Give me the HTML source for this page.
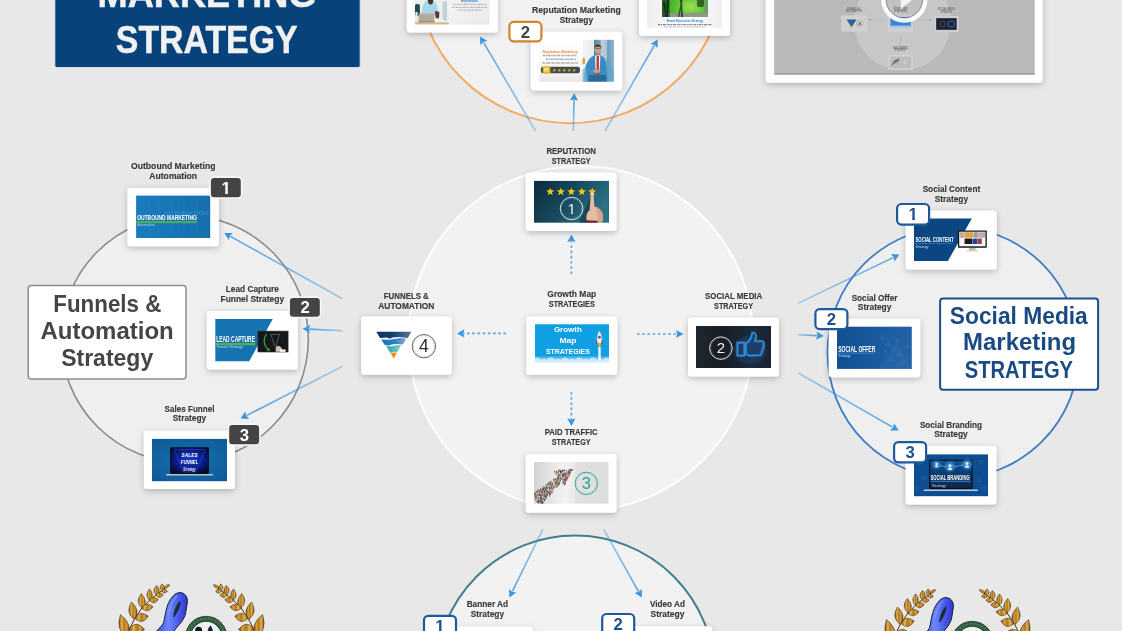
<!DOCTYPE html>
<html lang="en"><head><meta charset="utf-8"><title>Growth Map Strategies</title>
<style>html,body{margin:0;padding:0;background:#e8e8e8;overflow:hidden}svg{display:block;will-change:transform}text{font-family:'Liberation Sans', Arial, sans-serif}</style></head><body>
<svg width="1122" height="631" viewBox="0 0 1122 631">
<defs>
<filter id="sh" x="-20%" y="-30%" width="140%" height="170%"><feDropShadow dx="0" dy="2" stdDeviation="3" flood-color="#000" flood-opacity="0.24"/></filter>
<filter id="b0" x="-20%" y="-20%" width="140%" height="140%"><feGaussianBlur stdDeviation="0.35"/></filter>
<filter id="b1" x="-20%" y="-20%" width="140%" height="140%"><feGaussianBlur stdDeviation="0.6"/></filter>
<filter id="b2" x="-20%" y="-20%" width="140%" height="140%"><feGaussianBlur stdDeviation="1.2"/></filter>
</defs>
<rect width="1122" height="631" fill="#e8e8e8"/>
<circle cx="570.4" cy="-30.9" r="154.1" fill="#f1f1f1" stroke="#f2ab63" stroke-width="2"/>
<circle cx="580.7" cy="338.5" r="172.6" fill="#f2f2f2" stroke="#ffffff" stroke-width="1.9"/>
<circle cx="184.7" cy="339.1" r="123.6" fill="#efefef" stroke="#8c8c8c" stroke-width="1.6"/>
<circle cx="953.2" cy="352.6" r="125.7" fill="#efefef" stroke="#3c7ec6" stroke-width="1.8"/>
<circle cx="575.2" cy="675" r="139.4" fill="#f2f2f2" stroke="#3f7f8e" stroke-width="2"/>
<line x1="571.4" y1="274.0" x2="571.4" y2="241.5" stroke="#3b96e0" stroke-width="1.6" stroke-opacity="0.85" stroke-dasharray="2.6 2.6"/>
<polygon points="571.4,234.5 575.5,241.9 571.4,240.9 567.3,241.9" fill="#3b96e0"/>
<line x1="506.0" y1="333.4" x2="464.0" y2="333.4" stroke="#3b96e0" stroke-width="1.6" stroke-opacity="0.85" stroke-dasharray="2.6 2.6"/>
<polygon points="457.0,333.4 464.4,329.3 463.4,333.4 464.4,337.5" fill="#3b96e0"/>
<line x1="637.0" y1="334.0" x2="676.5" y2="334.0" stroke="#3b96e0" stroke-width="1.6" stroke-opacity="0.85" stroke-dasharray="2.6 2.6"/>
<polygon points="683.5,334.0 676.1,338.1 677.1,334.0 676.1,329.9" fill="#3b96e0"/>
<line x1="571.4" y1="392.0" x2="571.4" y2="419.0" stroke="#3b96e0" stroke-width="1.6" stroke-opacity="0.85" stroke-dasharray="2.6 2.6"/>
<polygon points="571.4,426.0 567.3,418.6 571.4,419.6 575.5,418.6" fill="#3b96e0"/>
<linearGradient id="ag1" gradientUnits="userSpaceOnUse" x1="342.4" y1="298.8" x2="230.4" y2="236.3"><stop offset="0" stop-color="#3b96e0" stop-opacity="0.42"/><stop offset="1" stop-color="#3b96e0" stop-opacity="0.85"/></linearGradient>
<line x1="342.4" y1="298.8" x2="230.4" y2="236.327" stroke="url(#ag1)" stroke-width="1.6"/>
<polygon points="224.3,232.9 232.8,232.9 229.9,236.0 228.8,240.1" fill="#3b96e0"/>
<linearGradient id="ag2" gradientUnits="userSpaceOnUse" x1="342.4" y1="330.8" x2="309.6" y2="329.2"><stop offset="0" stop-color="#3b96e0" stop-opacity="0.42"/><stop offset="1" stop-color="#3b96e0" stop-opacity="0.85"/></linearGradient>
<line x1="342.4" y1="330.8" x2="309.6" y2="329.154" stroke="url(#ag2)" stroke-width="1.6"/>
<polygon points="302.6,328.8 310.2,325.1 309.0,329.1 309.8,333.3" fill="#3b96e0"/>
<linearGradient id="ag3" gradientUnits="userSpaceOnUse" x1="342.4" y1="366.4" x2="246.9" y2="415.4"><stop offset="0" stop-color="#3b96e0" stop-opacity="0.42"/><stop offset="1" stop-color="#3b96e0" stop-opacity="0.85"/></linearGradient>
<line x1="342.4" y1="366.4" x2="246.9" y2="415.393" stroke="url(#ag3)" stroke-width="1.6"/>
<polygon points="240.6,418.6 245.3,411.6 246.3,415.7 249.1,418.9" fill="#3b96e0"/>
<linearGradient id="ag4" gradientUnits="userSpaceOnUse" x1="798.4" y1="303.1" x2="893.1" y2="257.6"><stop offset="0" stop-color="#3b96e0" stop-opacity="0.42"/><stop offset="1" stop-color="#3b96e0" stop-opacity="0.85"/></linearGradient>
<line x1="798.4" y1="303.1" x2="893.1" y2="257.644" stroke="url(#ag4)" stroke-width="1.6"/>
<polygon points="899.4,254.6 894.5,261.5 893.7,257.4 891.0,254.1" fill="#3b96e0"/>
<linearGradient id="ag5" gradientUnits="userSpaceOnUse" x1="798.4" y1="334.8" x2="816.8" y2="335.6"><stop offset="0" stop-color="#3b96e0" stop-opacity="0.42"/><stop offset="1" stop-color="#3b96e0" stop-opacity="0.85"/></linearGradient>
<line x1="798.4" y1="334.8" x2="816.8" y2="335.597" stroke="url(#ag5)" stroke-width="1.6"/>
<polygon points="823.8,335.9 816.2,339.7 817.4,335.6 816.6,331.5" fill="#3b96e0"/>
<linearGradient id="ag6" gradientUnits="userSpaceOnUse" x1="798.4" y1="373.0" x2="892.5" y2="427.1"><stop offset="0" stop-color="#3b96e0" stop-opacity="0.42"/><stop offset="1" stop-color="#3b96e0" stop-opacity="0.85"/></linearGradient>
<line x1="798.4" y1="373.0" x2="892.5" y2="427.097" stroke="url(#ag6)" stroke-width="1.6"/>
<polygon points="898.6,430.6 890.1,430.5 893.1,427.4 894.2,423.4" fill="#3b96e0"/>
<linearGradient id="ag7" gradientUnits="userSpaceOnUse" x1="535.5" y1="131.0" x2="483.7" y2="42.7"><stop offset="0" stop-color="#3b96e0" stop-opacity="0.42"/><stop offset="1" stop-color="#3b96e0" stop-opacity="0.85"/></linearGradient>
<line x1="535.5" y1="131.0" x2="483.7" y2="42.664" stroke="url(#ag7)" stroke-width="1.6"/>
<polygon points="480.1,36.6 487.4,40.9 483.3,42.1 480.3,45.1" fill="#3b96e0"/>
<linearGradient id="ag8" gradientUnits="userSpaceOnUse" x1="573.3" y1="131.0" x2="574.0" y2="100.2"><stop offset="0" stop-color="#3b96e0" stop-opacity="0.42"/><stop offset="1" stop-color="#3b96e0" stop-opacity="0.85"/></linearGradient>
<line x1="573.3" y1="131.0" x2="574.0" y2="100.229" stroke="url(#ag8)" stroke-width="1.6"/>
<polygon points="574.2,93.2 578.1,100.7 574.0,99.6 569.9,100.5" fill="#3b96e0"/>
<linearGradient id="ag9" gradientUnits="userSpaceOnUse" x1="605.0" y1="131.0" x2="654.2" y2="45.6"><stop offset="0" stop-color="#3b96e0" stop-opacity="0.42"/><stop offset="1" stop-color="#3b96e0" stop-opacity="0.85"/></linearGradient>
<line x1="605.0" y1="131.0" x2="654.2" y2="45.593" stroke="url(#ag9)" stroke-width="1.6"/>
<polygon points="657.7,39.5 657.6,48.0 654.5,45.0 650.5,43.9" fill="#3b96e0"/>
<linearGradient id="ag10" gradientUnits="userSpaceOnUse" x1="542.9" y1="529.2" x2="512.5" y2="591.1"><stop offset="0" stop-color="#3b96e0" stop-opacity="0.42"/><stop offset="1" stop-color="#3b96e0" stop-opacity="0.85"/></linearGradient>
<line x1="542.9" y1="529.2" x2="512.5" y2="591.091" stroke="url(#ag10)" stroke-width="1.6"/>
<polygon points="509.4,597.4 509.0,589.0 512.2,591.7 516.3,592.6" fill="#3b96e0"/>
<linearGradient id="ag11" gradientUnits="userSpaceOnUse" x1="603.6" y1="529.2" x2="638.4" y2="591.3"><stop offset="0" stop-color="#3b96e0" stop-opacity="0.42"/><stop offset="1" stop-color="#3b96e0" stop-opacity="0.85"/></linearGradient>
<line x1="603.6" y1="529.2" x2="638.4" y2="591.268" stroke="url(#ag11)" stroke-width="1.6"/>
<polygon points="641.8,597.4 634.6,592.9 638.7,591.8 641.8,588.9" fill="#3b96e0"/>
<rect x="54.8" y="-10" width="305.4" height="77.6" rx="2" fill="#08427b" stroke="#dfe6f0" stroke-width="1"/>
<text x="207.0" y="7.3" font-size="39.5" font-weight="bold" fill="#f1f1f1" text-anchor="middle" textLength="218.8" lengthAdjust="spacingAndGlyphs" stroke="#f1f1f1" stroke-width="0.5">MARKETING</text>
<text x="206.7" y="53.2" font-size="39.5" font-weight="bold" fill="#f1f1f1" text-anchor="middle" textLength="181.8" lengthAdjust="spacingAndGlyphs" stroke="#f1f1f1" stroke-width="0.5">STRATEGY</text>
<rect x="765.7" y="-10" width="276.9" height="92.7" rx="3.5" fill="#fff" filter="url(#sh)"/>
<g>
<rect x="774.2" y="-10" width="260.5" height="84.4" fill="#b9b9b9"/>
<circle cx="902.6" cy="22" r="48.5" fill="#c7c7c7"/>
<rect x="774.2" y="73.2" width="260.5" height="1.4" fill="#9a9a9a"/>
<rect x="841.2" y="15.2" width="25.8" height="16.6" rx="1" fill="#d0d0d0"/>
<polygon points="846.5,19.5 856.5,19.5 851.5,27.5" fill="#2d5f9c"/><polygon points="850.3,25.6 852.7,25.6 851.5,27.6" fill="#c98a3a"/>
<circle cx="859.6" cy="23.6" r="2.9" fill="#e2e2e2" stroke="#555" stroke-width="0.4"/>
<text x="859.6" y="25.1" font-size="4.2" font-weight="bold" fill="#333" text-anchor="middle" >4</text>
<rect x="887.9" y="14" width="25.3" height="17.8" rx="1" fill="#cfcfcf"/>
<rect x="890.4" y="17.2" width="20.4" height="10.8" fill="#3d86d0"/>
<rect x="890.4" y="25.6" width="20.4" height="2.6" fill="#a9c6e6" filter="url(#b1)"/>
<rect x="934" y="16" width="24.6" height="16" rx="1" fill="#cdcdcd"/>
<rect x="936.2" y="18.2" width="20.4" height="11.6" fill="#1c2230"/>
<circle cx="942.6" cy="24" r="2.8" fill="none" stroke="#6d7480" stroke-width="0.5"/>
<rect x="948.2" y="21.2" width="6" height="5.6" rx="1" fill="none" stroke="#2f6fc0" stroke-width="0.9"/>
<rect x="888" y="54.5" width="25.2" height="15.6" rx="1" fill="#cfcfcf"/>
<rect x="890.2" y="56.6" width="20.8" height="11.4" fill="#bdbdbd"/>
<polygon points="890.8,66.5 894,60.5 899.5,58.2 899,61 893,64.6" fill="#77726a"/>
<circle cx="905" cy="62.4" r="2.8" fill="#c5cdc9" stroke="#9fb5b0" stroke-width="0.5"/>
<text x="853.7" y="9.6" font-size="2.6" font-weight="bold" fill="#6f6f6f" text-anchor="middle" textLength="13.0" lengthAdjust="spacingAndGlyphs" >FUNNELS &amp;</text>
<text x="853.7" y="12.4" font-size="2.6" font-weight="bold" fill="#6f6f6f" text-anchor="middle" textLength="16.0" lengthAdjust="spacingAndGlyphs" >AUTOMATION</text>
<text x="900.5" y="9.4" font-size="2.6" font-weight="bold" fill="#6f6f6f" text-anchor="middle" textLength="14.0" lengthAdjust="spacingAndGlyphs" >Growth Map</text>
<text x="900.5" y="12.2" font-size="2.6" font-weight="bold" fill="#6f6f6f" text-anchor="middle" textLength="13.0" lengthAdjust="spacingAndGlyphs" >STRATEGIES</text>
<text x="946.3" y="10.4" font-size="2.6" font-weight="bold" fill="#6f6f6f" text-anchor="middle" textLength="16.5" lengthAdjust="spacingAndGlyphs" >SOCIAL MEDIA</text>
<text x="946.3" y="13.2" font-size="2.6" font-weight="bold" fill="#6f6f6f" text-anchor="middle" textLength="11.5" lengthAdjust="spacingAndGlyphs" >STRATEGY</text>
<text x="900.5" y="48.6" font-size="2.6" font-weight="bold" fill="#6f6f6f" text-anchor="middle" textLength="15.0" lengthAdjust="spacingAndGlyphs" >PAID TRAFFIC</text>
<text x="900.5" y="51.4" font-size="2.6" font-weight="bold" fill="#6f6f6f" text-anchor="middle" textLength="11.5" lengthAdjust="spacingAndGlyphs" >STRATEGY</text>
<line x1="870" y1="19.8" x2="884" y2="19.8" stroke="#9fb6d4" stroke-width="0.5"/><polygon points="868.6,19.8 871,18.8 871,20.8" fill="#7fa0cc"/>
<line x1="917" y1="19.8" x2="930" y2="19.8" stroke="#9fb6d4" stroke-width="0.5"/><polygon points="931.6,19.8 929.2,18.8 929.2,20.8" fill="#7fa0cc"/>
<line x1="900.5" y1="36" x2="900.5" y2="45" stroke="#8fa9cc" stroke-width="0.5"/>
<circle cx="904.3" cy="-0.3" r="18.6" fill="#000" fill-opacity="0.035"/>
<circle cx="904.3" cy="-0.3" r="20.75" fill="none" stroke="#ffffff" stroke-width="4.7" stroke-opacity="0.93"/>
<circle cx="904.3" cy="-0.3" r="18.2" fill="none" stroke="#4e4e4e" stroke-width="0.7" stroke-opacity="0.75"/>
<polygon points="900.6,-10.4 900.6,9.6 912,-0.2" fill="#f2f2f2"/>
</g>
<rect x="361.0" y="316.4" width="91.0" height="58.4" rx="3.2" fill="#fff" filter="url(#sh)"/>
<defs><linearGradient id="fg1" x1="0" x2="1"><stop offset="0" stop-color="#0d3560"/><stop offset="0.45" stop-color="#123f6e"/><stop offset="1" stop-color="#5d7498"/></linearGradient><linearGradient id="fg2" x1="0" x2="1"><stop offset="0" stop-color="#1a74bd"/><stop offset="0.5" stop-color="#2a7cc4"/><stop offset="1" stop-color="#86a6dc"/></linearGradient><linearGradient id="fg3" x1="0" x2="1"><stop offset="0" stop-color="#2a86c8"/><stop offset="1" stop-color="#5fa6dc"/></linearGradient><linearGradient id="fg4" x1="0" x2="1"><stop offset="0" stop-color="#23a4ae"/><stop offset="1" stop-color="#8fd2c8"/></linearGradient></defs>
<g filter="url(#b0)" transform="translate(0,0.6)">
<polygon points="376.3,331.2 411.3,331.2 407.8,337.4 399,336.4 392.6,337 389.6,338.2 387,337 380,337.4" fill="url(#fg1)"/>
<polygon points="381,338.9 389.6,339.2 396,338.2 400,337.4 406.4,338.2 402.8,344 396,343.4 391.6,344 389,345 384.8,344.3" fill="url(#fg2)"/>
<polygon points="386.2,345.6 391.6,345.6 396,344.6 401.3,344.5 397.2,351.8 393.4,351.2 390.4,352.5" fill="url(#fg4)"/>
<polygon points="390.7,352.7 393.4,352 396.9,352.2 393.7,358.2" fill="#f28c1e"/>
</g>
<circle cx="423.9" cy="346.2" r="11.7" fill="none" stroke="#2a2a2a" stroke-width="0.7"/>
<circle cx="423.9" cy="346.2" r="10.399999999999999" fill="none" stroke="#2a2a2a" stroke-width="0.5" stroke-dasharray="1 1.2" stroke-opacity="0.7"/>
<text x="423.9" y="352.3" font-size="17.5" font-weight="normal" fill="#2a2a2a" text-anchor="middle" >4</text>
<rect x="526.2" y="316.4" width="91.0" height="58.4" rx="3.2" fill="#fff" filter="url(#sh)"/>
<defs><linearGradient id="gm" x1="0" y1="0" x2="0" y2="1"><stop offset="0" stop-color="#0e9fe3"/><stop offset="0.74" stop-color="#119fe3"/><stop offset="0.86" stop-color="#a6dcf5"/><stop offset="1" stop-color="#ffffff"/></linearGradient></defs>
<rect x="535" y="324.3" width="74" height="42" fill="url(#gm)"/>
<clipPath id="gmc"><rect x="535" y="324.3" width="74" height="42"/></clipPath><g clip-path="url(#gmc)" filter="url(#b1)">
<circle cx="537" cy="361.8" r="4.4" fill="#d8effb" fill-opacity="0.8"/>
<circle cx="544" cy="363.2" r="4.4" fill="#d8effb" fill-opacity="0.8"/>
<circle cx="551" cy="361.8" r="4.4" fill="#d8effb" fill-opacity="0.8"/>
<circle cx="558" cy="363.2" r="4.4" fill="#d8effb" fill-opacity="0.8"/>
<circle cx="565" cy="361.8" r="4.4" fill="#d8effb" fill-opacity="0.8"/>
<circle cx="572" cy="363.2" r="4.4" fill="#d8effb" fill-opacity="0.8"/>
<circle cx="579" cy="361.8" r="4.4" fill="#d8effb" fill-opacity="0.8"/>
<circle cx="586" cy="363.2" r="4.4" fill="#d8effb" fill-opacity="0.8"/>
<circle cx="593" cy="361.8" r="4.4" fill="#d8effb" fill-opacity="0.8"/>
<circle cx="600" cy="363.2" r="4.4" fill="#d8effb" fill-opacity="0.8"/>
<circle cx="607" cy="361.8" r="4.4" fill="#d8effb" fill-opacity="0.8"/>
</g>
<rect x="535" y="362.5" width="74" height="4" fill="#fff"/>
<text x="567.9" y="332.0" font-size="7.4" font-weight="bold" fill="#fff" text-anchor="middle" textLength="28.0" lengthAdjust="spacingAndGlyphs" >Growth</text>
<text x="567.9" y="343.0" font-size="7.4" font-weight="bold" fill="#fff" text-anchor="middle" textLength="17.0" lengthAdjust="spacingAndGlyphs" >Map</text>
<text x="567.9" y="354.0" font-size="7.4" font-weight="bold" fill="#fff" text-anchor="middle" textLength="44.0" lengthAdjust="spacingAndGlyphs" >STRATEGIES</text>
<path d="M599.4 331 C601.6 334 602.2 338 601.6 343 L597.2 343 C596.6 338 597.2 334 599.4 331Z" fill="#f4f4f4" stroke="#c9c9c9" stroke-width="0.3"/>
<circle cx="599.4" cy="337.2" r="1.3" fill="#2a6fb4" stroke="#c33" stroke-width="0.5"/>
<path d="M597.2 339.5 L595.4 344.4 L597.4 343Z M601.6 339.5 L603.4 344.4 L601.4 343Z" fill="#e0262c"/>
<path d="M597.8 343.2 L601 343.2 L599.4 349.6Z" fill="#f5b21b"/>
<rect x="598.3" y="347" width="2.4" height="13.5" fill="#fff" fill-opacity="0.95"/>
<rect x="688.0" y="317.7" width="91.0" height="58.7" rx="3.2" fill="#fff" filter="url(#sh)"/>
<defs><linearGradient id="sm" x1="0" x2="1"><stop offset="0" stop-color="#20262f"/><stop offset="0.35" stop-color="#181d25"/><stop offset="0.75" stop-color="#1b2a3d"/><stop offset="1" stop-color="#1a2330"/></linearGradient></defs>
<rect x="696" y="326" width="75" height="42" fill="url(#sm)"/>
<ellipse cx="750" cy="350" rx="16" ry="14" fill="#1d5c9c" fill-opacity="0.3" filter="url(#b2)"/>
<circle cx="720.9" cy="348.1" r="11.3" fill="none" stroke="#f2f2f2" stroke-width="0.9"/>
<circle cx="720.9" cy="348.1" r="10.0" fill="none" stroke="#f2f2f2" stroke-width="0.5" stroke-dasharray="1 1.2" stroke-opacity="0.7"/>
<text x="720.9" y="353.4" font-size="15" font-weight="normal" fill="#f2f2f2" text-anchor="middle" >2</text>
<path d="M737.4 342.6 L744.4 342.6 L744.4 355.6 L737.4 355.6 Z M746 343.4 C749 341.6 751.6 337.6 752.2 332.8 C755.2 332 756.6 335 755.8 338.2 L755 341.2 L762 341.2 C764 341.4 764.6 343.4 763.4 344.6 C764.4 345.6 764 347.4 762.8 348 C763.6 349.2 763 350.8 761.8 351.4 C762.2 353 761.2 355 759.4 355.2 L750 355.6 C748.4 355.6 747.2 354.8 746 354 Z" fill="#15508f" fill-opacity="0.3" stroke="#5fb4ff" stroke-width="2.6" stroke-opacity="0.3" filter="url(#b1)"/>
<path d="M737.4 342.6 L744.4 342.6 L744.4 355.6 L737.4 355.6 Z M746 343.4 C749 341.6 751.6 337.6 752.2 332.8 C755.2 332 756.6 335 755.8 338.2 L755 341.2 L762 341.2 C764 341.4 764.6 343.4 763.4 344.6 C764.4 345.6 764 347.4 762.8 348 C763.6 349.2 763 350.8 761.8 351.4 C762.2 353 761.2 355 759.4 355.2 L750 355.6 C748.4 355.6 747.2 354.8 746 354 Z" fill="none" stroke="#2f8fe8" stroke-width="1.3" stroke-linejoin="round"/>
<rect x="525.8" y="172.5" width="90.6" height="58.5" rx="3.2" fill="#fff" filter="url(#sh)"/>
<defs><linearGradient id="rp" x1="0" y1="0" x2="1" y2="0.4"><stop offset="0" stop-color="#0d2a3b"/><stop offset="0.55" stop-color="#184a5f"/><stop offset="1" stop-color="#2c7184"/></linearGradient></defs>
<rect x="534" y="180.9" width="75" height="41.8" fill="url(#rp)"/>
<polygon points="590.4,197 579,222.7 588,222.7 592,208" fill="#0a2230" fill-opacity="0.45"/>
<polygon points="550.20,187.50 551.26,190.34 554.29,190.47 551.92,192.36 552.73,195.28 550.20,193.61 547.67,195.28 548.48,192.36 546.11,190.47 549.14,190.34" fill="#f6c915"/>
<polygon points="560.80,187.50 561.86,190.34 564.89,190.47 562.52,192.36 563.33,195.28 560.80,193.61 558.27,195.28 559.08,192.36 556.71,190.47 559.74,190.34" fill="#f6c915"/>
<polygon points="571.30,187.50 572.36,190.34 575.39,190.47 573.02,192.36 573.83,195.28 571.30,193.61 568.77,195.28 569.58,192.36 567.21,190.47 570.24,190.34" fill="#f6c915"/>
<polygon points="581.90,187.50 582.96,190.34 585.99,190.47 583.62,192.36 584.43,195.28 581.90,193.61 579.37,195.28 580.18,192.36 577.81,190.47 580.84,190.34" fill="#f6c915"/>
<polygon points="592.20,187.50 593.26,190.34 596.29,190.47 593.92,192.36 594.73,195.28 592.20,193.61 589.67,195.28 590.48,192.36 588.11,190.47 591.14,190.34" fill="#f6c915"/>
<circle cx="571.6" cy="208.5" r="11.3" fill="none" stroke="#eef3f5" stroke-width="0.9"/>
<circle cx="571.6" cy="208.5" r="10.0" fill="none" stroke="#eef3f5" stroke-width="0.5" stroke-dasharray="1 1.2" stroke-opacity="0.7"/>
<clipPath id="dc1"><polygon points="566.43,198.80 576.77,198.80 576.77,212.45 572.99,212.45 572.99,214.80 571.25,214.80 571.25,212.45 566.43,212.45"/></clipPath>
<g clip-path="url(#dc1)">
<text x="571.6" y="213.8" font-size="15" font-weight="normal" fill="#eef3f5" text-anchor="middle" >1</text>
</g>
<path d="M590.8 193.6 C590.8 191.6 593.4 191.6 593.6 193.6 L594.4 206.4 C597.6 206.8 601.4 209.6 602.6 213.6 C603.6 216.6 603 220 602 222.7 L587.6 222.7 C585.6 218.6 585.8 213.6 589.6 210.2 Z" fill="#e6bba0"/>
<path d="M594.4 206.4 C597.6 206.8 601.4 209.6 602.6 213.6 C603.6 216.6 603 220 602 222.7 L597 222.7 C598.6 216 597.6 210 594.4 206.4Z" fill="#c99a80" fill-opacity="0.7"/>
<path d="M585.4 222.7 L597.6 222.7 L597.4 220.8 L586 220.2Z" fill="#6b2a3a"/>
<path d="M591.3 193.2 C591.5 192.2 592.9 192.2 593.1 193.2 L593.2 195.6 L591.3 195.6Z" fill="#f5ddcd"/>
<rect x="525.8" y="454.0" width="90.6" height="58.7" rx="3.2" fill="#fff" filter="url(#sh)"/>
<defs><linearGradient id="pt" x1="0" x2="1"><stop offset="0" stop-color="#d4d4d4"/><stop offset="0.42" stop-color="#f3f3f3"/><stop offset="0.55" stop-color="#e9e9e9"/><stop offset="0.56" stop-color="#e1e1e1"/><stop offset="1" stop-color="#dcdcdc"/></linearGradient></defs>
<rect x="534" y="462" width="74.4" height="41.7" fill="url(#pt)"/>
<g opacity="0.9"><rect x="559.4" y="469.6" width="0.9" height="1.9" fill="#222"/><rect x="543.4" y="486.8" width="0.9" height="1.9" fill="#6b4a3a"/><rect x="566.2" y="471.5" width="0.9" height="1.9" fill="#c9a878"/><rect x="555.7" y="471.8" width="0.9" height="1.9" fill="#3b5d8a"/><rect x="546.0" y="496.4" width="0.9" height="1.9" fill="#a33b2e"/><rect x="541.0" y="495.1" width="0.9" height="1.9" fill="#2d3b5e"/><rect x="556.4" y="485.9" width="0.9" height="1.9" fill="#7a6a5a"/><rect x="562.4" y="477.4" width="0.9" height="1.9" fill="#2d3b5e"/><rect x="563.5" y="472.5" width="0.9" height="1.9" fill="#b58a5a"/><rect x="544.5" y="492.1" width="0.9" height="1.9" fill="#2d3b5e"/><rect x="536.4" y="492.3" width="0.9" height="1.9" fill="#d8c7a8"/><rect x="562.8" y="481.3" width="0.9" height="1.9" fill="#b58a5a"/><rect x="557.0" y="476.5" width="0.9" height="1.9" fill="#6b4a3a"/><rect x="557.8" y="478.5" width="0.9" height="1.9" fill="#a33b2e"/><rect x="536.1" y="499.4" width="0.9" height="1.9" fill="#d8c7a8"/><rect x="565.1" y="481.1" width="0.9" height="1.9" fill="#3b5d8a"/><rect x="549.4" y="484.3" width="0.9" height="1.9" fill="#3b5d8a"/><rect x="535.0" y="498.5" width="0.9" height="1.9" fill="#8a3a3a"/><rect x="548.7" y="489.8" width="0.9" height="1.9" fill="#7a6a5a"/><rect x="557.5" y="484.1" width="0.9" height="1.9" fill="#2d3b5e"/><rect x="552.2" y="484.4" width="0.9" height="1.9" fill="#2d3b5e"/><rect x="539.6" y="494.0" width="0.9" height="1.9" fill="#55606e"/><rect x="544.3" y="496.8" width="0.9" height="1.9" fill="#a33b2e"/><rect x="563.6" y="477.7" width="0.9" height="1.9" fill="#d8c7a8"/><rect x="540.5" y="494.8" width="0.9" height="1.9" fill="#222"/><rect x="555.1" y="485.1" width="0.9" height="1.9" fill="#d8c7a8"/><rect x="542.7" y="496.2" width="0.9" height="1.9" fill="#c9a878"/><rect x="562.9" y="475.2" width="0.9" height="1.9" fill="#222"/><rect x="557.6" y="479.4" width="0.9" height="1.9" fill="#55606e"/><rect x="542.0" y="489.5" width="0.9" height="1.9" fill="#8a3a3a"/><rect x="537.3" y="490.8" width="0.9" height="1.9" fill="#3b5d8a"/><rect x="564.8" y="479.0" width="0.9" height="1.9" fill="#55606e"/><rect x="549.4" y="481.4" width="0.9" height="1.9" fill="#2d3b5e"/><rect x="562.3" y="473.1" width="0.9" height="1.9" fill="#a33b2e"/><rect x="552.1" y="490.6" width="0.9" height="1.9" fill="#8a3a3a"/><rect x="559.6" y="479.6" width="0.9" height="1.9" fill="#222"/><rect x="538.0" y="494.0" width="0.9" height="1.9" fill="#a33b2e"/><rect x="566.2" y="474.6" width="0.9" height="1.9" fill="#444"/><rect x="563.8" y="478.7" width="0.9" height="1.9" fill="#222"/><rect x="551.9" y="488.0" width="0.9" height="1.9" fill="#222"/><rect x="553.6" y="486.1" width="0.9" height="1.9" fill="#222"/><rect x="564.3" y="472.4" width="0.9" height="1.9" fill="#a33b2e"/><rect x="555.7" y="478.7" width="0.9" height="1.9" fill="#222"/><rect x="554.7" y="484.4" width="0.9" height="1.9" fill="#2d3b5e"/><rect x="568.4" y="469.0" width="0.9" height="1.9" fill="#c9a878"/><rect x="544.8" y="494.8" width="0.9" height="1.9" fill="#222"/><rect x="568.9" y="469.3" width="0.9" height="1.9" fill="#7a6a5a"/><rect x="551.6" y="486.2" width="0.9" height="1.9" fill="#b58a5a"/><rect x="568.8" y="474.3" width="0.9" height="1.9" fill="#b58a5a"/><rect x="569.0" y="472.6" width="0.9" height="1.9" fill="#55606e"/><rect x="559.1" y="480.2" width="0.9" height="1.9" fill="#444"/><rect x="542.6" y="501.3" width="0.9" height="1.9" fill="#3b5d8a"/><rect x="568.5" y="472.9" width="0.9" height="1.9" fill="#d8c7a8"/><rect x="566.5" y="472.8" width="0.9" height="1.9" fill="#3b5d8a"/><rect x="547.2" y="483.5" width="0.9" height="1.9" fill="#55606e"/><rect x="535.5" y="495.0" width="0.9" height="1.9" fill="#444"/><rect x="554.9" y="485.5" width="0.9" height="1.9" fill="#b58a5a"/><rect x="561.3" y="470.2" width="0.9" height="1.9" fill="#6b4a3a"/><rect x="565.2" y="473.6" width="0.9" height="1.9" fill="#2d3b5e"/><rect x="557.7" y="475.0" width="0.9" height="1.9" fill="#444"/><rect x="547.2" y="486.9" width="0.9" height="1.9" fill="#444"/><rect x="541.1" y="500.6" width="0.9" height="1.9" fill="#d8c7a8"/><rect x="545.9" y="494.3" width="0.9" height="1.9" fill="#444"/><rect x="551.4" y="491.2" width="0.9" height="1.9" fill="#444"/><rect x="570.5" y="470.8" width="0.9" height="1.9" fill="#d8c7a8"/><rect x="550.9" y="484.8" width="0.9" height="1.9" fill="#3b5d8a"/><rect x="541.7" y="498.7" width="0.9" height="1.9" fill="#55606e"/><rect x="558.8" y="481.6" width="0.9" height="1.9" fill="#7a6a5a"/><rect x="536.2" y="490.9" width="0.9" height="1.9" fill="#3b5d8a"/><rect x="552.5" y="485.1" width="0.9" height="1.9" fill="#c9a878"/><rect x="543.7" y="494.9" width="0.9" height="1.9" fill="#2d3b5e"/><rect x="543.1" y="488.1" width="0.9" height="1.9" fill="#222"/><rect x="567.3" y="472.6" width="0.9" height="1.9" fill="#55606e"/><rect x="558.1" y="472.2" width="0.9" height="1.9" fill="#55606e"/><rect x="538.1" y="497.1" width="0.9" height="1.9" fill="#222"/><rect x="536.7" y="500.6" width="0.9" height="1.9" fill="#222"/><rect x="543.2" y="494.2" width="0.9" height="1.9" fill="#c9a878"/><rect x="553.3" y="480.8" width="0.9" height="1.9" fill="#b58a5a"/><rect x="541.7" y="488.6" width="0.9" height="1.9" fill="#7a6a5a"/><rect x="543.9" y="493.8" width="0.9" height="1.9" fill="#444"/><rect x="558.2" y="471.8" width="0.9" height="1.9" fill="#b58a5a"/><rect x="560.4" y="477.5" width="0.9" height="1.9" fill="#222"/><rect x="555.4" y="478.2" width="0.9" height="1.9" fill="#2d3b5e"/><rect x="556.7" y="472.1" width="0.9" height="1.9" fill="#222"/><rect x="548.2" y="484.9" width="0.9" height="1.9" fill="#b58a5a"/><rect x="549.8" y="493.2" width="0.9" height="1.9" fill="#3b5d8a"/><rect x="538.7" y="500.4" width="0.9" height="1.9" fill="#55606e"/><rect x="534.5" y="493.6" width="0.9" height="1.9" fill="#444"/><rect x="548.1" y="482.4" width="0.9" height="1.9" fill="#444"/><rect x="567.3" y="477.1" width="0.9" height="1.9" fill="#6b4a3a"/><rect x="566.6" y="477.3" width="0.9" height="1.9" fill="#a33b2e"/><rect x="570.1" y="471.6" width="0.9" height="1.9" fill="#b58a5a"/><rect x="544.0" y="493.6" width="0.9" height="1.9" fill="#d8c7a8"/><rect x="544.1" y="490.6" width="0.9" height="1.9" fill="#444"/><rect x="538.7" y="490.2" width="0.9" height="1.9" fill="#2d3b5e"/><rect x="542.1" y="499.6" width="0.9" height="1.9" fill="#b58a5a"/><rect x="555.5" y="483.3" width="0.9" height="1.9" fill="#7a6a5a"/><rect x="544.1" y="487.5" width="0.9" height="1.9" fill="#6b4a3a"/><rect x="563.2" y="481.9" width="0.9" height="1.9" fill="#3b5d8a"/><rect x="563.1" y="474.6" width="0.9" height="1.9" fill="#444"/><rect x="552.5" y="488.1" width="0.9" height="1.9" fill="#6b4a3a"/><rect x="536.9" y="500.5" width="0.9" height="1.9" fill="#222"/><rect x="563.8" y="483.5" width="0.9" height="1.9" fill="#222"/><rect x="535.5" y="492.7" width="0.9" height="1.9" fill="#a33b2e"/><rect x="544.2" y="495.5" width="0.9" height="1.9" fill="#6b4a3a"/><rect x="561.5" y="478.1" width="0.9" height="1.9" fill="#6b4a3a"/><rect x="541.6" y="498.9" width="0.9" height="1.9" fill="#d8c7a8"/><rect x="560.6" y="474.1" width="0.9" height="1.9" fill="#444"/><rect x="542.0" y="501.9" width="0.9" height="1.9" fill="#444"/><rect x="563.9" y="474.0" width="0.9" height="1.9" fill="#b58a5a"/><rect x="542.6" y="494.4" width="0.9" height="1.9" fill="#444"/><rect x="538.3" y="489.4" width="0.9" height="1.9" fill="#8a3a3a"/><rect x="550.3" y="491.0" width="0.9" height="1.9" fill="#8a3a3a"/><rect x="542.3" y="502.1" width="0.9" height="1.9" fill="#a33b2e"/><rect x="550.2" y="492.6" width="0.9" height="1.9" fill="#a33b2e"/><rect x="538.8" y="501.7" width="0.9" height="1.9" fill="#c9a878"/><rect x="548.8" y="494.7" width="0.9" height="1.9" fill="#444"/><rect x="544.2" y="492.8" width="0.9" height="1.9" fill="#7a6a5a"/><rect x="536.5" y="496.7" width="0.9" height="1.9" fill="#2d3b5e"/><rect x="541.1" y="495.9" width="0.9" height="1.9" fill="#55606e"/><rect x="545.8" y="491.9" width="0.9" height="1.9" fill="#a33b2e"/><rect x="557.7" y="478.8" width="0.9" height="1.9" fill="#7a6a5a"/><rect x="549.9" y="490.4" width="0.9" height="1.9" fill="#b58a5a"/><rect x="555.6" y="478.7" width="0.9" height="1.9" fill="#3b5d8a"/><rect x="559.9" y="471.4" width="0.9" height="1.9" fill="#444"/><rect x="545.5" y="487.4" width="0.9" height="1.9" fill="#7a6a5a"/><rect x="543.6" y="485.9" width="0.9" height="1.9" fill="#d8c7a8"/><rect x="544.1" y="495.0" width="0.9" height="1.9" fill="#6b4a3a"/><rect x="558.2" y="474.8" width="0.9" height="1.9" fill="#7a6a5a"/><rect x="558.2" y="469.8" width="0.9" height="1.9" fill="#6b4a3a"/><rect x="549.4" y="486.8" width="0.9" height="1.9" fill="#d8c7a8"/><rect x="559.1" y="481.1" width="0.9" height="1.9" fill="#3b5d8a"/><rect x="569.5" y="470.2" width="0.9" height="1.9" fill="#8a3a3a"/><rect x="565.4" y="477.9" width="0.9" height="1.9" fill="#6b4a3a"/><rect x="540.3" y="495.3" width="0.9" height="1.9" fill="#c9a878"/><rect x="541.5" y="498.8" width="0.9" height="1.9" fill="#d8c7a8"/><rect x="535.5" y="497.2" width="0.9" height="1.9" fill="#2d3b5e"/><rect x="549.2" y="483.4" width="0.9" height="1.9" fill="#d8c7a8"/><rect x="552.1" y="483.1" width="0.9" height="1.9" fill="#8a3a3a"/><rect x="551.2" y="485.4" width="0.9" height="1.9" fill="#6b4a3a"/><rect x="562.1" y="469.9" width="0.9" height="1.9" fill="#222"/><rect x="561.0" y="470.9" width="0.9" height="1.9" fill="#a33b2e"/><rect x="540.4" y="495.4" width="0.9" height="1.9" fill="#c9a878"/><rect x="563.5" y="472.7" width="0.9" height="1.9" fill="#8a3a3a"/><rect x="544.7" y="496.4" width="0.9" height="1.9" fill="#a33b2e"/><rect x="552.7" y="488.3" width="0.9" height="1.9" fill="#8a3a3a"/><rect x="553.7" y="478.5" width="0.9" height="1.9" fill="#6b4a3a"/><rect x="558.8" y="477.0" width="0.9" height="1.9" fill="#7a6a5a"/><rect x="568.9" y="473.1" width="0.9" height="1.9" fill="#444"/><rect x="558.8" y="480.0" width="0.9" height="1.9" fill="#b58a5a"/><rect x="568.4" y="470.8" width="0.9" height="1.9" fill="#222"/><rect x="558.6" y="481.2" width="0.9" height="1.9" fill="#7a6a5a"/><rect x="556.5" y="480.0" width="0.9" height="1.9" fill="#2d3b5e"/><rect x="566.0" y="476.1" width="0.9" height="1.9" fill="#d8c7a8"/><rect x="558.4" y="482.0" width="0.9" height="1.9" fill="#7a6a5a"/><rect x="568.9" y="471.8" width="0.9" height="1.9" fill="#c9a878"/><rect x="545.8" y="485.8" width="0.9" height="1.9" fill="#222"/><rect x="542.7" y="488.0" width="0.9" height="1.9" fill="#8a3a3a"/><rect x="566.3" y="472.7" width="0.9" height="1.9" fill="#6b4a3a"/><rect x="564.5" y="481.5" width="0.9" height="1.9" fill="#444"/><rect x="571.7" y="469.0" width="0.9" height="1.9" fill="#222"/><rect x="554.2" y="484.7" width="0.9" height="1.9" fill="#a33b2e"/><rect x="554.7" y="481.6" width="0.9" height="1.9" fill="#c9a878"/><rect x="540.2" y="499.8" width="0.9" height="1.9" fill="#2d3b5e"/><rect x="541.8" y="488.9" width="0.9" height="1.9" fill="#222"/><rect x="559.3" y="481.9" width="0.9" height="1.9" fill="#8a3a3a"/><rect x="544.4" y="486.9" width="0.9" height="1.9" fill="#3b5d8a"/><rect x="540.6" y="499.6" width="0.9" height="1.9" fill="#55606e"/><rect x="549.2" y="488.6" width="0.9" height="1.9" fill="#3b5d8a"/><rect x="558.3" y="469.8" width="0.9" height="1.9" fill="#a33b2e"/><rect x="538.2" y="500.4" width="0.9" height="1.9" fill="#7a6a5a"/><rect x="541.8" y="501.4" width="0.9" height="1.9" fill="#222"/><rect x="568.8" y="469.4" width="0.9" height="1.9" fill="#55606e"/><rect x="535.3" y="497.5" width="0.9" height="1.9" fill="#d8c7a8"/><rect x="537.4" y="494.1" width="0.9" height="1.9" fill="#d8c7a8"/><rect x="537.8" y="494.3" width="0.9" height="1.9" fill="#c9a878"/><rect x="570.3" y="468.7" width="0.9" height="1.9" fill="#7a6a5a"/><rect x="557.5" y="484.1" width="0.9" height="1.9" fill="#444"/><rect x="550.1" y="482.7" width="0.9" height="1.9" fill="#2d3b5e"/><rect x="547.5" y="492.4" width="0.9" height="1.9" fill="#222"/><rect x="556.5" y="472.7" width="0.9" height="1.9" fill="#c9a878"/><rect x="540.5" y="500.8" width="0.9" height="1.9" fill="#2d3b5e"/><rect x="555.9" y="470.8" width="0.9" height="1.9" fill="#7a6a5a"/><rect x="537.4" y="499.0" width="0.9" height="1.9" fill="#6b4a3a"/><rect x="550.7" y="486.6" width="0.9" height="1.9" fill="#a33b2e"/><rect x="540.1" y="497.4" width="0.9" height="1.9" fill="#d8c7a8"/><rect x="555.6" y="478.6" width="0.9" height="1.9" fill="#b58a5a"/><rect x="556.6" y="471.5" width="0.9" height="1.9" fill="#b58a5a"/><rect x="557.5" y="479.6" width="0.9" height="1.9" fill="#c9a878"/><rect x="538.0" y="501.6" width="0.9" height="1.9" fill="#2d3b5e"/><rect x="538.3" y="499.8" width="0.9" height="1.9" fill="#444"/><rect x="557.5" y="481.6" width="0.9" height="1.9" fill="#55606e"/><rect x="543.4" y="497.7" width="0.9" height="1.9" fill="#55606e"/><rect x="546.2" y="489.6" width="0.9" height="1.9" fill="#2d3b5e"/><rect x="549.6" y="492.7" width="0.9" height="1.9" fill="#a33b2e"/><rect x="551.8" y="489.4" width="0.9" height="1.9" fill="#3b5d8a"/><rect x="542.5" y="492.8" width="0.9" height="1.9" fill="#c9a878"/><rect x="554.2" y="470.6" width="0.9" height="1.9" fill="#8a3a3a"/><rect x="564.9" y="480.3" width="0.9" height="1.9" fill="#7a6a5a"/><rect x="542.2" y="491.6" width="0.9" height="1.9" fill="#3b5d8a"/><rect x="558.9" y="476.1" width="0.9" height="1.9" fill="#3b5d8a"/><rect x="550.3" y="482.1" width="0.9" height="1.9" fill="#55606e"/><rect x="540.4" y="500.5" width="0.9" height="1.9" fill="#2d3b5e"/><rect x="552.3" y="487.2" width="0.9" height="1.9" fill="#c9a878"/><rect x="565.8" y="472.3" width="0.9" height="1.9" fill="#d8c7a8"/><rect x="545.5" y="486.7" width="0.9" height="1.9" fill="#a33b2e"/><rect x="564.6" y="475.3" width="0.9" height="1.9" fill="#55606e"/><rect x="534.1" y="493.0" width="0.9" height="1.9" fill="#444"/><rect x="548.0" y="490.6" width="0.9" height="1.9" fill="#7a6a5a"/><rect x="552.7" y="482.4" width="0.9" height="1.9" fill="#d8c7a8"/><rect x="537.3" y="499.3" width="0.9" height="1.9" fill="#a33b2e"/><rect x="536.2" y="496.8" width="0.9" height="1.9" fill="#7a6a5a"/><rect x="564.6" y="472.1" width="0.9" height="1.9" fill="#7a6a5a"/><rect x="559.6" y="476.0" width="0.9" height="1.9" fill="#2d3b5e"/><rect x="564.6" y="474.5" width="0.9" height="1.9" fill="#3b5d8a"/><rect x="564.9" y="473.0" width="0.9" height="1.9" fill="#55606e"/><rect x="541.7" y="491.9" width="0.9" height="1.9" fill="#222"/><rect x="537.1" y="497.2" width="0.9" height="1.9" fill="#d8c7a8"/><rect x="553.4" y="486.4" width="0.9" height="1.9" fill="#55606e"/><rect x="534.3" y="497.3" width="0.9" height="1.9" fill="#b58a5a"/><rect x="560.4" y="473.5" width="0.9" height="1.9" fill="#7a6a5a"/><rect x="535.3" y="492.9" width="0.9" height="1.9" fill="#d8c7a8"/><rect x="559.7" y="479.3" width="0.9" height="1.9" fill="#222"/><rect x="553.3" y="479.0" width="0.9" height="1.9" fill="#444"/><rect x="561.8" y="471.6" width="0.9" height="1.9" fill="#d8c7a8"/><rect x="549.6" y="487.0" width="0.9" height="1.9" fill="#3b5d8a"/><rect x="541.4" y="500.2" width="0.9" height="1.9" fill="#8a3a3a"/><rect x="563.9" y="469.2" width="0.9" height="1.9" fill="#222"/><rect x="560.6" y="474.7" width="0.9" height="1.9" fill="#d8c7a8"/><rect x="540.8" y="490.9" width="0.9" height="1.9" fill="#6b4a3a"/><rect x="568.0" y="472.0" width="0.9" height="1.9" fill="#444"/><rect x="559.1" y="474.6" width="0.9" height="1.9" fill="#a33b2e"/><rect x="558.4" y="482.4" width="0.9" height="1.9" fill="#6b4a3a"/><rect x="560.7" y="471.4" width="0.9" height="1.9" fill="#2d3b5e"/><rect x="556.2" y="483.2" width="0.9" height="1.9" fill="#55606e"/><rect x="537.3" y="489.6" width="0.9" height="1.9" fill="#55606e"/><rect x="536.4" y="498.8" width="0.9" height="1.9" fill="#d8c7a8"/><rect x="565.9" y="469.9" width="0.9" height="1.9" fill="#444"/><rect x="546.2" y="488.6" width="0.9" height="1.9" fill="#b58a5a"/><rect x="557.7" y="478.4" width="0.9" height="1.9" fill="#8a3a3a"/><rect x="540.5" y="501.8" width="0.9" height="1.9" fill="#2d3b5e"/><rect x="548.2" y="490.2" width="0.9" height="1.9" fill="#d8c7a8"/><rect x="564.3" y="483.3" width="0.9" height="1.9" fill="#444"/><rect x="566.3" y="479.0" width="0.9" height="1.9" fill="#8a3a3a"/><rect x="539.9" y="497.0" width="0.9" height="1.9" fill="#8a3a3a"/><rect x="548.7" y="491.7" width="0.9" height="1.9" fill="#8a3a3a"/><rect x="564.1" y="475.4" width="0.9" height="1.9" fill="#b58a5a"/><rect x="544.7" y="497.6" width="0.9" height="1.9" fill="#222"/><rect x="541.8" y="494.0" width="0.9" height="1.9" fill="#c9a878"/><rect x="549.4" y="492.5" width="0.9" height="1.9" fill="#444"/><rect x="549.0" y="486.5" width="0.9" height="1.9" fill="#222"/><rect x="543.1" y="487.9" width="0.9" height="1.9" fill="#444"/><rect x="552.6" y="488.2" width="0.9" height="1.9" fill="#c9a878"/><rect x="565.4" y="477.4" width="0.9" height="1.9" fill="#8a3a3a"/><rect x="556.0" y="481.5" width="0.9" height="1.9" fill="#222"/><rect x="567.4" y="475.9" width="0.9" height="1.9" fill="#b58a5a"/><rect x="540.1" y="488.5" width="0.9" height="1.9" fill="#7a6a5a"/><rect x="544.9" y="488.9" width="0.9" height="1.9" fill="#2d3b5e"/><rect x="564.4" y="482.3" width="0.9" height="1.9" fill="#b58a5a"/><rect x="549.3" y="483.1" width="0.9" height="1.9" fill="#a33b2e"/><rect x="562.1" y="473.2" width="0.9" height="1.9" fill="#444"/><rect x="570.7" y="469.1" width="0.9" height="1.9" fill="#222"/><rect x="535.8" y="495.3" width="0.9" height="1.9" fill="#55606e"/><rect x="541.8" y="493.9" width="0.9" height="1.9" fill="#8a3a3a"/><rect x="562.0" y="474.0" width="0.9" height="1.9" fill="#6b4a3a"/><rect x="540.1" y="497.0" width="0.9" height="1.9" fill="#2d3b5e"/><rect x="568.7" y="472.0" width="0.9" height="1.9" fill="#b58a5a"/><rect x="546.9" y="493.5" width="0.9" height="1.9" fill="#a33b2e"/><rect x="539.6" y="498.3" width="0.9" height="1.9" fill="#444"/><rect x="545.6" y="495.9" width="0.9" height="1.9" fill="#444"/><rect x="569.2" y="471.1" width="0.9" height="1.9" fill="#222"/><rect x="536.2" y="499.2" width="0.9" height="1.9" fill="#d8c7a8"/><rect x="566.6" y="471.3" width="0.9" height="1.9" fill="#c9a878"/><rect x="539.6" y="490.0" width="0.9" height="1.9" fill="#b58a5a"/><rect x="565.5" y="479.3" width="0.9" height="1.9" fill="#a33b2e"/><rect x="541.0" y="497.4" width="0.9" height="1.9" fill="#222"/><rect x="542.0" y="489.0" width="0.9" height="1.9" fill="#55606e"/><rect x="558.5" y="473.9" width="0.9" height="1.9" fill="#444"/><rect x="562.6" y="481.7" width="0.9" height="1.9" fill="#55606e"/><rect x="563.8" y="471.8" width="0.9" height="1.9" fill="#d8c7a8"/><rect x="554.3" y="483.0" width="0.9" height="1.9" fill="#222"/><rect x="543.5" y="496.9" width="0.9" height="1.9" fill="#7a6a5a"/><rect x="535.0" y="496.0" width="0.9" height="1.9" fill="#a33b2e"/><rect x="537.8" y="492.2" width="0.9" height="1.9" fill="#c9a878"/><rect x="544.2" y="497.1" width="0.9" height="1.9" fill="#d8c7a8"/><rect x="556.5" y="485.8" width="0.9" height="1.9" fill="#55606e"/><rect x="549.6" y="487.2" width="0.9" height="1.9" fill="#7a6a5a"/><rect x="550.5" y="489.8" width="0.9" height="1.9" fill="#7a6a5a"/><rect x="560.1" y="475.1" width="0.9" height="1.9" fill="#3b5d8a"/><rect x="559.0" y="476.6" width="0.9" height="1.9" fill="#d8c7a8"/><rect x="544.7" y="493.5" width="0.9" height="1.9" fill="#55606e"/><rect x="559.4" y="474.2" width="0.9" height="1.9" fill="#55606e"/><rect x="545.8" y="484.2" width="0.9" height="1.9" fill="#444"/><rect x="568.3" y="474.8" width="0.9" height="1.9" fill="#6b4a3a"/><rect x="564.1" y="472.7" width="0.9" height="1.9" fill="#2d3b5e"/><rect x="557.6" y="479.5" width="0.9" height="1.9" fill="#d8c7a8"/><rect x="547.7" y="491.3" width="0.9" height="1.9" fill="#8a3a3a"/><rect x="557.8" y="477.0" width="0.9" height="1.9" fill="#222"/><rect x="537.7" y="497.8" width="0.9" height="1.9" fill="#b58a5a"/><rect x="544.5" y="489.7" width="0.9" height="1.9" fill="#d8c7a8"/><rect x="569.7" y="471.6" width="0.9" height="1.9" fill="#2d3b5e"/><rect x="534.2" y="494.6" width="0.9" height="1.9" fill="#8a3a3a"/><rect x="567.1" y="477.1" width="0.9" height="1.9" fill="#8a3a3a"/><rect x="557.7" y="480.7" width="0.9" height="1.9" fill="#b58a5a"/><rect x="561.0" y="477.4" width="0.9" height="1.9" fill="#7a6a5a"/><rect x="555.7" y="480.8" width="0.9" height="1.9" fill="#7a6a5a"/><rect x="534.3" y="493.8" width="0.9" height="1.9" fill="#b58a5a"/><rect x="551.0" y="480.6" width="0.9" height="1.9" fill="#c9a878"/><rect x="537.4" y="500.1" width="0.9" height="1.9" fill="#7a6a5a"/><rect x="544.0" y="499.3" width="0.9" height="1.9" fill="#444"/><rect x="554.2" y="485.6" width="0.9" height="1.9" fill="#d8c7a8"/><rect x="550.8" y="483.7" width="0.9" height="1.9" fill="#6b4a3a"/><rect x="557.2" y="479.6" width="0.9" height="1.9" fill="#6b4a3a"/><rect x="549.6" y="487.2" width="0.9" height="1.9" fill="#8a3a3a"/><rect x="550.4" y="481.5" width="0.9" height="1.9" fill="#8a3a3a"/><rect x="559.6" y="477.6" width="0.9" height="1.9" fill="#7a6a5a"/><rect x="554.0" y="485.2" width="0.9" height="1.9" fill="#c9a878"/><rect x="556.0" y="470.8" width="0.9" height="1.9" fill="#8a3a3a"/><rect x="564.7" y="478.0" width="0.9" height="1.9" fill="#55606e"/><rect x="540.8" y="494.7" width="0.9" height="1.9" fill="#8a3a3a"/><rect x="544.4" y="490.3" width="0.9" height="1.9" fill="#222"/><rect x="541.7" y="488.7" width="0.9" height="1.9" fill="#a33b2e"/><rect x="540.1" y="494.3" width="0.9" height="1.9" fill="#2d3b5e"/><rect x="552.2" y="482.5" width="0.9" height="1.9" fill="#6b4a3a"/><rect x="556.6" y="472.2" width="0.9" height="1.9" fill="#c9a878"/><rect x="547.6" y="483.2" width="0.9" height="1.9" fill="#3b5d8a"/><rect x="540.2" y="488.1" width="0.9" height="1.9" fill="#a33b2e"/><rect x="565.8" y="477.9" width="0.9" height="1.9" fill="#8a3a3a"/><rect x="543.8" y="498.9" width="0.9" height="1.9" fill="#2d3b5e"/><rect x="562.0" y="475.0" width="0.9" height="1.9" fill="#444"/><rect x="549.5" y="492.6" width="0.9" height="1.9" fill="#6b4a3a"/><rect x="564.9" y="475.8" width="0.9" height="1.9" fill="#a33b2e"/><rect x="547.1" y="490.4" width="0.9" height="1.9" fill="#2d3b5e"/><rect x="555.6" y="480.9" width="0.9" height="1.9" fill="#b58a5a"/><rect x="535.4" y="490.9" width="0.9" height="1.9" fill="#7a6a5a"/><rect x="565.4" y="475.7" width="0.9" height="1.9" fill="#a33b2e"/><rect x="566.6" y="471.6" width="0.9" height="1.9" fill="#b58a5a"/><rect x="545.6" y="484.1" width="0.9" height="1.9" fill="#c9a878"/><rect x="539.1" y="492.4" width="0.9" height="1.9" fill="#444"/><rect x="557.2" y="482.9" width="0.9" height="1.9" fill="#7a6a5a"/><rect x="554.9" y="481.5" width="0.9" height="1.9" fill="#222"/><rect x="542.3" y="498.4" width="0.9" height="1.9" fill="#2d3b5e"/><rect x="560.4" y="470.3" width="0.9" height="1.9" fill="#444"/><rect x="535.1" y="492.9" width="0.9" height="1.9" fill="#a33b2e"/><rect x="559.8" y="470.9" width="0.9" height="1.9" fill="#222"/><rect x="563.6" y="473.9" width="0.9" height="1.9" fill="#55606e"/><rect x="538.9" y="492.8" width="0.9" height="1.9" fill="#444"/><rect x="552.1" y="489.6" width="0.9" height="1.9" fill="#d8c7a8"/><rect x="567.6" y="471.8" width="0.9" height="1.9" fill="#444"/><rect x="569.3" y="470.5" width="0.9" height="1.9" fill="#444"/><rect x="538.5" y="499.9" width="0.9" height="1.9" fill="#55606e"/><rect x="542.5" y="491.4" width="0.9" height="1.9" fill="#3b5d8a"/><rect x="546.1" y="490.0" width="0.9" height="1.9" fill="#a33b2e"/><rect x="553.4" y="485.7" width="0.9" height="1.9" fill="#3b5d8a"/><rect x="570.5" y="471.0" width="0.9" height="1.9" fill="#d8c7a8"/><rect x="538.3" y="495.5" width="0.9" height="1.9" fill="#c9a878"/><rect x="564.3" y="479.4" width="0.9" height="1.9" fill="#2d3b5e"/><rect x="542.6" y="486.0" width="0.9" height="1.9" fill="#7a6a5a"/><rect x="558.5" y="483.3" width="0.9" height="1.9" fill="#6b4a3a"/><rect x="560.4" y="474.4" width="0.9" height="1.9" fill="#d8c7a8"/><rect x="539.0" y="494.4" width="0.9" height="1.9" fill="#6b4a3a"/><rect x="555.8" y="473.3" width="0.9" height="1.9" fill="#a33b2e"/><rect x="554.1" y="483.0" width="0.9" height="1.9" fill="#d8c7a8"/><rect x="568.5" y="472.1" width="0.9" height="1.9" fill="#8a3a3a"/><rect x="543.4" y="489.7" width="0.9" height="1.9" fill="#2d3b5e"/><rect x="540.6" y="491.0" width="0.9" height="1.9" fill="#8a3a3a"/><rect x="551.4" y="487.5" width="0.9" height="1.9" fill="#444"/><rect x="563.3" y="470.0" width="0.9" height="1.9" fill="#55606e"/><rect x="546.9" y="493.6" width="0.9" height="1.9" fill="#444"/><rect x="559.5" y="476.1" width="0.9" height="1.9" fill="#c9a878"/><rect x="537.0" y="493.9" width="0.9" height="1.9" fill="#6b4a3a"/><rect x="563.0" y="478.8" width="0.9" height="1.9" fill="#a33b2e"/><rect x="559.2" y="479.8" width="0.9" height="1.9" fill="#c9a878"/><rect x="548.4" y="486.8" width="0.9" height="1.9" fill="#7a6a5a"/><rect x="566.7" y="476.1" width="0.9" height="1.9" fill="#6b4a3a"/><rect x="545.7" y="487.9" width="0.9" height="1.9" fill="#2d3b5e"/><rect x="539.4" y="489.9" width="0.9" height="1.9" fill="#3b5d8a"/><rect x="564.7" y="482.3" width="0.9" height="1.9" fill="#444"/><rect x="562.3" y="480.6" width="0.9" height="1.9" fill="#6b4a3a"/><rect x="551.3" y="487.3" width="0.9" height="1.9" fill="#7a6a5a"/></g>
<circle cx="586.3" cy="483.4" r="11.2" fill="none" stroke="#23a39b" stroke-width="0.9"/>
<circle cx="586.3" cy="483.4" r="9.899999999999999" fill="none" stroke="#23a39b" stroke-width="0.5" stroke-dasharray="1 1.2" stroke-opacity="0.7"/>
<text x="586.3" y="489.2" font-size="16.5" font-weight="normal" fill="#23a39b" text-anchor="middle" >3</text>
<rect x="127.4" y="188.0" width="91.5" height="58.2" rx="3.2" fill="#fff" filter="url(#sh)"/>
<defs><linearGradient id="ob" x1="0" x2="1"><stop offset="0" stop-color="#1a7cbd"/><stop offset="1" stop-color="#176fae"/></linearGradient></defs>
<rect x="136.1" y="195.6" width="74.1" height="42.4" fill="url(#ob)"/>
<line x1="140" y1="195.6" x2="140" y2="238" stroke="#4aa0d8" stroke-width="0.4" stroke-opacity="0.35"/>
<line x1="149" y1="195.6" x2="149" y2="238" stroke="#4aa0d8" stroke-width="0.4" stroke-opacity="0.35"/>
<line x1="158" y1="195.6" x2="158" y2="238" stroke="#4aa0d8" stroke-width="0.4" stroke-opacity="0.35"/>
<line x1="171" y1="195.6" x2="171" y2="238" stroke="#4aa0d8" stroke-width="0.4" stroke-opacity="0.35"/>
<line x1="184" y1="195.6" x2="184" y2="238" stroke="#4aa0d8" stroke-width="0.4" stroke-opacity="0.35"/>
<line x1="197" y1="195.6" x2="197" y2="238" stroke="#4aa0d8" stroke-width="0.4" stroke-opacity="0.35"/>
<text x="186.0" y="214.7" font-size="5.6" font-weight="bold" fill="#3d92ce" text-anchor="middle" textLength="45.3" lengthAdjust="spacingAndGlyphs" fill-opacity="0.75">AUTOMATION</text>
<text x="137.2" y="220.0" font-size="6.7" font-weight="bold" fill="#fff" text-anchor="start" textLength="59.7" lengthAdjust="spacingAndGlyphs" >OUTBOUND MARKETING</text>
<rect x="136.1" y="221" width="60.8" height="2.2" fill="#4cae4c"/>
<text x="137.2" y="226.2" font-size="3.3" font-weight="normal" fill="#cfe3f2" text-anchor="start" textLength="17.5" lengthAdjust="spacingAndGlyphs" fill-opacity="0.8">Automation</text>
<rect x="206.9" y="311.0" width="91.1" height="58.4" rx="3.2" fill="#fff" filter="url(#sh)"/>
<polygon points="215.3,318.9 272.8,318.9 249.2,361.2 215.3,361.2" fill="#1673b1"/>
<text x="216.2" y="342.2" font-size="8.2" font-weight="bold" fill="#fff" text-anchor="start" textLength="38.8" lengthAdjust="spacingAndGlyphs" >LEAD CAPTURE</text>
<rect x="215.8" y="343" width="39.5" height="2.3" fill="#56b14a"/>
<text x="216.8" y="348.4" font-size="3" font-weight="normal" fill="#d6e6f3" text-anchor="start" textLength="26.0" lengthAdjust="spacingAndGlyphs" fill-opacity="0.85">Funnel Strategy</text>
<rect x="257.9" y="331.1" width="30.2" height="20.9" fill="#15181b" stroke="#2c2f33" stroke-width="0.6"/>
<path d="M266.4 334 C262.8 339 263.6 345.4 268 349.6" fill="none" stroke="#3faa3c" stroke-width="1.2"/>
<polygon points="266.6,350.4 269.6,347.6 269.6,351" fill="#3faa3c"/>
<path d="M270.6 334.5 L279.6 334.5 L277.6 339.5 L276.4 345.5 L274 345.5 L272.8 339.5Z" fill="none" stroke="#8a8f94" stroke-width="0.5"/>
<path d="M275.6 347.2 C277.4 345.4 280 346 281.2 347.6 L283.2 351.8 L275.8 351.8Z" fill="#d9c0ae"/>
<rect x="280" y="349.4" width="5.6" height="2.5" fill="#f0f0f0"/>
<rect x="143.9" y="430.7" width="91.1" height="58.3" rx="3.2" fill="#fff" filter="url(#sh)"/>
<defs><radialGradient id="sf" cx="0.5" cy="0.5" r="0.7"><stop offset="0" stop-color="#1571b5"/><stop offset="1" stop-color="#0e5a93"/></radialGradient><radialGradient id="sfs" cx="0.5" cy="0.45" r="0.65"><stop offset="0" stop-color="#1b3fd2"/><stop offset="0.6" stop-color="#0a1a86"/><stop offset="1" stop-color="#040a2c"/></radialGradient></defs>
<rect x="152" y="438.9" width="75" height="42.3" fill="url(#sf)"/>
<rect x="170.1" y="447.3" width="38.8" height="26.6" rx="0.8" fill="#060a1a"/>
<rect x="171" y="448.2" width="37" height="24.6" fill="url(#sfs)"/>
<polygon points="174,449.5 205.6,449.5 196,472 183.5,472" fill="none" stroke="#3f6bff" stroke-width="0.5" stroke-opacity="0.7"/>
<text x="189.6" y="456.6" font-size="5.8" font-weight="bold" fill="#fff" text-anchor="middle" textLength="16.0" lengthAdjust="spacingAndGlyphs" font-style="italic">SALES</text>
<text x="189.6" y="463.8" font-size="5.8" font-weight="bold" fill="#fff" text-anchor="middle" textLength="17.5" lengthAdjust="spacingAndGlyphs" font-style="italic">FUNNEL</text>
<text x="189.6" y="470.6" font-size="4.6" font-weight="bold" fill="#dfe6ff" text-anchor="middle" textLength="12.5" lengthAdjust="spacingAndGlyphs" font-style="italic">Strategy</text>
<rect x="166" y="473.9" width="47.1" height="1.5" rx="0.6" fill="#b9c3cc"/>
<rect x="905.8" y="210.7" width="90.9" height="58.9" rx="3.2" fill="#fff" filter="url(#sh)"/>
<polygon points="914,218.6 971.8,218.6 947.9,260.9 914,260.9" fill="#0b4582"/>
<text x="915.4" y="242.0" font-size="7.4" font-weight="bold" fill="#fff" text-anchor="start" textLength="38.3" lengthAdjust="spacingAndGlyphs" >SOCIAL CONTENT</text>
<rect x="914" y="243.2" width="39.8" height="0.9" fill="#2f78c4"/>
<text x="915.6" y="248.4" font-size="3.2" font-weight="normal" fill="#c9d8ea" text-anchor="start" textLength="13.0" lengthAdjust="spacingAndGlyphs" >Strategy</text>
<rect x="957.9" y="230.4" width="28.9" height="17.4" rx="0.8" fill="#101214"/>
<rect x="959.2" y="231.7" width="26.3" height="14.6" fill="#f6f6f6"/>
<rect x="959.8" y="232.2" width="4.6" height="5.6" fill="#c7a98d"/>
<rect x="964.8" y="232.2" width="8.4" height="5.6" fill="#e3a13b"/>
<rect x="973.6" y="232.2" width="4.2" height="5.6" fill="#9a9a9a"/>
<rect x="978.2" y="232.2" width="6.8" height="5.6" fill="#b7b0a4"/>
<rect x="964.6" y="238.6" width="7.4" height="5.4" fill="#1b1b1e"/>
<rect x="972.4" y="238.6" width="5.2" height="5.4" fill="#2a3f93"/>
<rect x="978" y="238.6" width="3.8" height="5.4" fill="#a23a4a"/>
<rect x="969" y="248" width="6.6" height="2.2" fill="#bcbcbc"/><rect x="966.6" y="250.2" width="11.4" height="1.2" fill="#c9c9c9"/>
<rect x="828.7" y="318.7" width="91.5" height="58.5" rx="3.2" fill="#fff" filter="url(#sh)"/>
<defs><linearGradient id="so" x1="0" x2="1"><stop offset="0" stop-color="#11508f"/><stop offset="0.55" stop-color="#1a5b9f"/><stop offset="1" stop-color="#2463a6"/></linearGradient></defs>
<rect x="837" y="326.7" width="74.8" height="42.2" fill="url(#so)"/>
<rect x="881" y="336" width="3" height="3" rx="0.6" fill="none" stroke="#5d92cc" stroke-width="0.5" stroke-opacity="0.6"/>
<rect x="896" y="339" width="3" height="3" rx="0.6" fill="none" stroke="#5d92cc" stroke-width="0.5" stroke-opacity="0.6"/>
<rect x="886" y="343" width="3" height="3" rx="0.6" fill="none" stroke="#5d92cc" stroke-width="0.5" stroke-opacity="0.6"/>
<rect x="892" y="347" width="3" height="3" rx="0.6" fill="none" stroke="#5d92cc" stroke-width="0.5" stroke-opacity="0.6"/>
<rect x="884" y="351" width="3" height="3" rx="0.6" fill="none" stroke="#5d92cc" stroke-width="0.5" stroke-opacity="0.6"/>
<rect x="898" y="353" width="3" height="3" rx="0.6" fill="none" stroke="#5d92cc" stroke-width="0.5" stroke-opacity="0.6"/>
<rect x="905" y="345" width="3" height="3" rx="0.6" fill="none" stroke="#5d92cc" stroke-width="0.5" stroke-opacity="0.6"/>
<rect x="889" y="358" width="3" height="3" rx="0.6" fill="none" stroke="#5d92cc" stroke-width="0.5" stroke-opacity="0.6"/>
<rect x="901" y="361" width="3" height="3" rx="0.6" fill="none" stroke="#5d92cc" stroke-width="0.5" stroke-opacity="0.6"/>
<polygon points="878,368.9 890,352 897,344 903,352 911.8,368.9" fill="#3a74b6" fill-opacity="0.28"/>
<text x="838.3" y="351.7" font-size="8.4" font-weight="bold" fill="#fff" text-anchor="start" textLength="37.0" lengthAdjust="spacingAndGlyphs" >SOCIAL OFFER</text>
<rect x="837" y="352.6" width="38.4" height="1" fill="#2f86d8"/>
<text x="838.6" y="357.4" font-size="3" font-weight="normal" fill="#c9d8ea" text-anchor="start" textLength="12.0" lengthAdjust="spacingAndGlyphs" >Strategy</text>
<rect x="905.6" y="446.0" width="90.8" height="58.4" rx="3.2" fill="#fff" filter="url(#sh)"/>
<rect x="914" y="454.4" width="74" height="41.8" fill="#0d4e92"/>
<circle cx="919" cy="463" r="1.8" fill="none" stroke="#3f7cc0" stroke-width="0.5" stroke-opacity="0.7"/>
<circle cx="924" cy="478" r="1.8" fill="none" stroke="#3f7cc0" stroke-width="0.5" stroke-opacity="0.7"/>
<circle cx="981" cy="462" r="1.8" fill="none" stroke="#3f7cc0" stroke-width="0.5" stroke-opacity="0.7"/>
<circle cx="979" cy="480" r="1.8" fill="none" stroke="#3f7cc0" stroke-width="0.5" stroke-opacity="0.7"/>
<circle cx="917" cy="489" r="1.8" fill="none" stroke="#3f7cc0" stroke-width="0.5" stroke-opacity="0.7"/>
<circle cx="984" cy="489" r="1.8" fill="none" stroke="#3f7cc0" stroke-width="0.5" stroke-opacity="0.7"/>
<rect x="929.1" y="459.7" width="43.6" height="29.2" rx="0.8" fill="#0a0f18"/>
<defs><linearGradient id="sb" x1="0" y1="0" x2="0" y2="1"><stop offset="0" stop-color="#0e4f93"/><stop offset="0.5" stop-color="#0b3a73"/><stop offset="1" stop-color="#14263f"/></linearGradient></defs>
<rect x="930.2" y="460.8" width="41.4" height="27" fill="url(#sb)"/>
<circle cx="936.6" cy="464.6" r="3.78" fill="#58b6f0" fill-opacity="0.6" filter="url(#b2)"/>
<circle cx="936.6" cy="463.90000000000003" r="1.176" fill="#dff2ff"/><path d="M934.9200000000001 467.26000000000005 C934.9200000000001 464.6 938.28 464.6 938.28 467.26000000000005Z" fill="#dff2ff"/>
<circle cx="950" cy="466.6" r="4.86" fill="#58b6f0" fill-opacity="0.6" filter="url(#b2)"/>
<circle cx="950" cy="465.70000000000005" r="1.512" fill="#dff2ff"/><path d="M947.84 470.02000000000004 C947.84 466.6 952.16 466.6 952.16 470.02000000000004Z" fill="#dff2ff"/>
<circle cx="967" cy="464.4" r="4.86" fill="#58b6f0" fill-opacity="0.6" filter="url(#b2)"/>
<circle cx="967" cy="463.5" r="1.512" fill="#dff2ff"/><path d="M964.84 467.82 C964.84 464.4 969.16 464.4 969.16 467.82Z" fill="#dff2ff"/>
<path d="M939 465.5 L946.6 467 M953.6 467 L963.4 465" stroke="#6fc0f2" stroke-width="0.6"/>
<text x="950.1" y="479.6" font-size="7" font-weight="bold" fill="#fff" text-anchor="middle" textLength="39.2" lengthAdjust="spacingAndGlyphs" >SOCIAL BRANDING</text>
<rect x="931" y="480.8" width="39.6" height="1" fill="#2f86d8"/>
<text x="932.0" y="486.6" font-size="3.6" font-weight="normal" fill="#b9cde6" text-anchor="start" textLength="14.0" lengthAdjust="spacingAndGlyphs" >Strategy</text>
<rect x="923.6" y="489.4" width="54.5" height="1.5" rx="0.6" fill="#c3ccd6"/>
<rect x="406.9" y="-30.0" width="91.1" height="62.4" rx="3.2" fill="#fff" filter="url(#sh)"/>
<defs><linearGradient id="tl1" x1="0" y1="0" x2="1" y2="1"><stop offset="0" stop-color="#ffffff"/><stop offset="1" stop-color="#e9e9e9"/></linearGradient></defs>
<rect x="414.9" y="-20" width="74.8" height="44.6" fill="url(#tl1)"/>
<g filter="url(#b1)"><clipPath id="tlc"><rect x="414.9" y="-20" width="33.9" height="44.6"/></clipPath><g clip-path="url(#tlc)">
<rect x="414.9" y="-20" width="33.9" height="44.6" fill="#ecefe9"/>
<rect x="414.9" y="4" width="5" height="12" rx="2" fill="#1f4a55"/>
<rect x="415.4" y="12" width="2.2" height="12" fill="#dfe8e6"/>
<path d="M421.5 15 C421.5 5 425 0 430 -1 C435.5 0 438 6 438.5 15Z" fill="#a6d6ea"/>
<ellipse cx="430.6" cy="0.6" rx="2.6" ry="4" fill="#4a3028"/>
<rect x="442.6" y="1.5" width="4.4" height="19" fill="#c3d0d6"/>
<path d="M435 11 L439.4 12 L439 18.5 L435.6 18Z" fill="#5a3a30"/>
<rect x="418.6" y="13.6" width="15.8" height="9" fill="#b5a999"/>
<rect x="418.6" y="21.2" width="15.8" height="1.3" fill="#8f8577"/>
<rect x="414.9" y="22.4" width="33.9" height="2.3" fill="#d6b888"/>
<rect x="437" y="19.6" width="7" height="2.4" fill="#f1efea"/>
</g></g>
<text x="469.3" y="1.6" font-size="3.6" font-weight="bold" fill="#2f86d8" text-anchor="middle" textLength="16.6" lengthAdjust="spacingAndGlyphs" >Reputation</text>
<line x1="452.8" y1="4.4" x2="486.8" y2="4.4" stroke="#7d7d7d" stroke-width="1.3" stroke-dasharray="1.8 0.7 0.9 0.6 2.4 0.8" stroke-opacity="0.5"/>
<line x1="451.8" y1="7.3" x2="487.8" y2="7.3" stroke="#7d7d7d" stroke-width="1.3" stroke-dasharray="1.8 0.7 0.9 0.6 2.4 0.8" stroke-opacity="0.5"/>
<line x1="457.3" y1="10.2" x2="482.3" y2="10.2" stroke="#7d7d7d" stroke-width="1.3" stroke-dasharray="1.8 0.7 0.9 0.6 2.4 0.8" stroke-opacity="0.5"/>
<rect x="639.0" y="-30.0" width="91.0" height="65.8" rx="3.2" fill="#fff" filter="url(#sh)"/>
<defs><linearGradient id="tr1" x1="0" x2="1"><stop offset="0" stop-color="#eeeeee"/><stop offset="0.5" stop-color="#ffffff"/><stop offset="1" stop-color="#eeeeee"/></linearGradient><radialGradient id="tr2" cx="0.62" cy="0.72" r="0.75"><stop offset="0" stop-color="#9be052"/><stop offset="0.45" stop-color="#54c032"/><stop offset="1" stop-color="#2f8f26"/></radialGradient></defs>
<rect x="647.2" y="-20" width="74.6" height="47.7" fill="url(#tr1)"/>
<clipPath id="trc"><rect x="661.9" y="-20" width="46.3" height="37"/></clipPath><g clip-path="url(#trc)" filter="url(#b1)">
<rect x="661.9" y="-20" width="46.3" height="37" fill="url(#tr2)"/>
<rect x="661.9" y="12.9" width="46.3" height="4.1" fill="#8d9886"/>
<rect x="661.9" y="-20" width="7.8" height="37" fill="#1c3a20" fill-opacity="0.72"/>
<rect x="704" y="-20" width="4.2" height="33" fill="#6f9a6a" fill-opacity="0.8"/>
<rect x="697" y="-20" width="7" height="27" rx="2" fill="#1d3a22" fill-opacity="0.7"/>
<path d="M679.4 -10 L682.6 17 M684 -10 L678.6 17 M681.6 2 L681.6 17" stroke="#243628" stroke-width="1.3" stroke-opacity="0.85"/>
<path d="M664 2 L666 17 M668 -4 L667 17" stroke="#0f2412" stroke-width="1.2"/>
</g>
<text x="685.0" y="21.6" font-size="3.9" font-weight="bold" fill="#2f86d8" text-anchor="middle" textLength="36.3" lengthAdjust="spacingAndGlyphs" >Brand Reputation Strategy</text>
<line x1="658" y1="24.6" x2="712" y2="24.6" stroke="#555" stroke-width="1.4" stroke-dasharray="2.2 0.6 1.4 0.7 3 0.8 1 0.5" stroke-opacity="0.7"/>
<line x1="664" y1="26.9" x2="705" y2="26.9" stroke="#777" stroke-width="1" stroke-dasharray="2.2 0.6 1.4 0.7 3 0.8" stroke-opacity="0.45"/>
<rect x="530.9" y="31.7" width="91.2" height="58.7" rx="3.2" fill="#fff" filter="url(#sh)"/>
<defs><linearGradient id="tm1" x1="0" y1="0" x2="0" y2="1"><stop offset="0" stop-color="#ffffff"/><stop offset="0.75" stop-color="#f6f6f6"/><stop offset="1" stop-color="#e6e6e6"/></linearGradient><linearGradient id="tm2" x1="0" x2="1"><stop offset="0" stop-color="#f3f6f8"/><stop offset="0.36" stop-color="#e4ecf1"/><stop offset="0.38" stop-color="#5f86a0"/><stop offset="0.56" stop-color="#7d9fb6"/><stop offset="0.6" stop-color="#bccfda"/><stop offset="0.76" stop-color="#aec5d3"/><stop offset="0.8" stop-color="#6f9cba"/><stop offset="1" stop-color="#8db6cf"/></linearGradient></defs>
<rect x="539.2" y="39.6" width="74.6" height="42.2" fill="url(#tm1)"/>
<clipPath id="tmc"><rect x="582.4" y="39.6" width="31.6" height="42.1"/></clipPath><g clip-path="url(#tmc)" filter="url(#b1)">
<rect x="582.4" y="39.6" width="31.6" height="42.1" fill="url(#tm2)"/>
<path d="M583.6 82 C583.8 68 586.6 58.6 594 55.4 L601 55.4 C606.4 57.6 608 66 607.6 82Z" fill="#3b8dc0"/>
<path d="M606 58 C611 60 613.6 68 613.8 82 L607 82Z" fill="#5ea6cf" fill-opacity="0.75"/>
<path d="M595 55.4 L600.4 55.4 L599.6 72 L595.6 72Z" fill="#eef3f6"/>
<path d="M596.6 56 L599 56 L598.9 76.5 L597.7 78 L596.5 76.5Z" fill="#d5332f"/>
<ellipse cx="597.9" cy="49.2" rx="3.3" ry="4" fill="#c9a283"/>
<path d="M594.4 48 C594.2 43.4 601.6 43.4 601.5 48 C600 46.4 596 46.4 594.4 48Z" fill="#4a3a30"/>
<rect x="594.8" y="48.2" width="6.2" height="0.8" fill="#5a4a40" fill-opacity="0.7"/>
<ellipse cx="596.8" cy="71.2" rx="3.6" ry="1.7" fill="#c79f84"/>
<path d="M589 75 L606 75 L606.6 82 L588.6 82Z" fill="#2a6a98"/>
<ellipse cx="583.6" cy="61" rx="1.5" ry="3.6" fill="#e9962e"/>
<path d="M582.4 70 L586 66 L587 82 L582.4 82Z" fill="#7fb4d2" fill-opacity="0.8"/>
</g>
<text x="560.0" y="52.6" font-size="3.9" font-weight="bold" fill="#f08a24" text-anchor="middle" textLength="35.2" lengthAdjust="spacingAndGlyphs" >Reputation Marketing</text>
<line x1="543" y1="55.6" x2="577" y2="55.6" stroke="#777" stroke-width="1.5" stroke-dasharray="2.2 0.7 1.2 0.6 2.8 0.8 0.8 0.6" stroke-opacity="0.62"/>
<line x1="546" y1="59.3" x2="576" y2="59.3" stroke="#777" stroke-width="1.5" stroke-dasharray="2.2 0.7 1.2 0.6 2.8 0.8 0.8 0.6" stroke-opacity="0.62"/>
<line x1="542.5" y1="63" x2="578" y2="63" stroke="#777" stroke-width="1.5" stroke-dasharray="2.2 0.7 1.2 0.6 2.8 0.8 0.8 0.6" stroke-opacity="0.62"/>
<rect x="540.8" y="66.7" width="39.2" height="6.6" rx="2.2" fill="#444c52"/>
<rect x="542.8" y="66.4" width="7.5" height="7.2" fill="#e8b81c"/>
<rect x="544.2" y="68" width="1.6" height="3.6" fill="#f7e6a8"/><rect x="546.6" y="67.6" width="1.6" height="4" fill="#f7e6a8"/>
<polygon points="554.40,68.40 554.87,69.65 556.21,69.71 555.16,70.55 555.52,71.84 554.40,71.10 553.28,71.84 553.64,70.55 552.59,69.71 553.93,69.65" fill="#f0be17"/>
<polygon points="559.30,68.40 559.77,69.65 561.11,69.71 560.06,70.55 560.42,71.84 559.30,71.10 558.18,71.84 558.54,70.55 557.49,69.71 558.83,69.65" fill="#f0be17"/>
<polygon points="564.30,68.40 564.77,69.65 566.11,69.71 565.06,70.55 565.42,71.84 564.30,71.10 563.18,71.84 563.54,70.55 562.49,69.71 563.83,69.65" fill="#f0be17"/>
<polygon points="569.20,68.40 569.67,69.65 571.01,69.71 569.96,70.55 570.32,71.84 569.20,71.10 568.08,71.84 568.44,70.55 567.39,69.71 568.73,69.65" fill="#f0be17"/>
<polygon points="574.20,68.40 574.67,69.65 576.01,69.71 574.96,70.55 575.32,71.84 574.20,71.10 573.08,71.84 573.44,70.55 572.39,69.71 573.73,69.65" fill="#f0be17"/>
<rect x="441.6" y="626.5" width="91.0" height="30.0" rx="3.2" fill="#fff" filter="url(#sh)"/>
<rect x="621.0" y="626.2" width="91.2" height="30.0" rx="3.2" fill="#fff" filter="url(#sh)"/>
<text x="571.2" y="154.2" font-size="9.2" font-weight="bold" fill="#383838" text-anchor="middle" textLength="49.6" lengthAdjust="spacingAndGlyphs" stroke="#383838" stroke-width="0.14">REPUTATION</text>
<text x="571.2" y="163.8" font-size="9.2" font-weight="bold" fill="#383838" text-anchor="middle" textLength="38.8" lengthAdjust="spacingAndGlyphs" stroke="#383838" stroke-width="0.14">STRATEGY</text>
<text x="571.8" y="297.1" font-size="9.2" font-weight="bold" fill="#383838" text-anchor="middle" textLength="49.0" lengthAdjust="spacingAndGlyphs" stroke="#383838" stroke-width="0.14">Growth Map</text>
<text x="571.8" y="306.6" font-size="9.2" font-weight="bold" fill="#383838" text-anchor="middle" textLength="46.0" lengthAdjust="spacingAndGlyphs" stroke="#383838" stroke-width="0.14">STRATEGIES</text>
<text x="406.3" y="298.5" font-size="9.2" font-weight="bold" fill="#383838" text-anchor="middle" textLength="45.0" lengthAdjust="spacingAndGlyphs" stroke="#383838" stroke-width="0.14">FUNNELS &amp;</text>
<text x="406.3" y="308.6" font-size="9.2" font-weight="bold" fill="#383838" text-anchor="middle" textLength="56.0" lengthAdjust="spacingAndGlyphs" stroke="#383838" stroke-width="0.14">AUTOMATION</text>
<text x="733.6" y="299.2" font-size="9.2" font-weight="bold" fill="#383838" text-anchor="middle" textLength="57.2" lengthAdjust="spacingAndGlyphs" stroke="#383838" stroke-width="0.14">SOCIAL MEDIA</text>
<text x="733.6" y="309.1" font-size="9.2" font-weight="bold" fill="#383838" text-anchor="middle" textLength="39.0" lengthAdjust="spacingAndGlyphs" stroke="#383838" stroke-width="0.14">STRATEGY</text>
<text x="571.2" y="435.4" font-size="9.2" font-weight="bold" fill="#383838" text-anchor="middle" textLength="52.9" lengthAdjust="spacingAndGlyphs" stroke="#383838" stroke-width="0.14">PAID TRAFFIC</text>
<text x="571.2" y="444.9" font-size="9.2" font-weight="bold" fill="#383838" text-anchor="middle" textLength="38.8" lengthAdjust="spacingAndGlyphs" stroke="#383838" stroke-width="0.14">STRATEGY</text>
<text x="173.2" y="169.0" font-size="9.2" font-weight="bold" fill="#383838" text-anchor="middle" textLength="84.5" lengthAdjust="spacingAndGlyphs" stroke="#383838" stroke-width="0.14">Outbound Marketing</text>
<text x="173.2" y="178.7" font-size="9.2" font-weight="bold" fill="#383838" text-anchor="middle" textLength="47.9" lengthAdjust="spacingAndGlyphs" stroke="#383838" stroke-width="0.14">Automation</text>
<text x="252.3" y="292.2" font-size="9.2" font-weight="bold" fill="#383838" text-anchor="middle" textLength="53.2" lengthAdjust="spacingAndGlyphs" stroke="#383838" stroke-width="0.14">Lead Capture</text>
<text x="252.3" y="301.9" font-size="9.2" font-weight="bold" fill="#383838" text-anchor="middle" textLength="63.6" lengthAdjust="spacingAndGlyphs" stroke="#383838" stroke-width="0.14">Funnel Strategy</text>
<text x="189.5" y="412.2" font-size="9.2" font-weight="bold" fill="#383838" text-anchor="middle" textLength="50.0" lengthAdjust="spacingAndGlyphs" stroke="#383838" stroke-width="0.14">Sales Funnel</text>
<text x="189.5" y="421.1" font-size="9.2" font-weight="bold" fill="#383838" text-anchor="middle" textLength="33.4" lengthAdjust="spacingAndGlyphs" stroke="#383838" stroke-width="0.14">Strategy</text>
<text x="951.4" y="192.2" font-size="9.2" font-weight="bold" fill="#383838" text-anchor="middle" textLength="57.5" lengthAdjust="spacingAndGlyphs" stroke="#383838" stroke-width="0.14">Social Content</text>
<text x="951.4" y="201.9" font-size="9.2" font-weight="bold" fill="#383838" text-anchor="middle" textLength="33.5" lengthAdjust="spacingAndGlyphs" stroke="#383838" stroke-width="0.14">Strategy</text>
<text x="874.6" y="300.5" font-size="9.2" font-weight="bold" fill="#383838" text-anchor="middle" textLength="45.9" lengthAdjust="spacingAndGlyphs" stroke="#383838" stroke-width="0.14">Social Offer</text>
<text x="874.6" y="310.1" font-size="9.2" font-weight="bold" fill="#383838" text-anchor="middle" textLength="33.5" lengthAdjust="spacingAndGlyphs" stroke="#383838" stroke-width="0.14">Strategy</text>
<text x="951.0" y="427.7" font-size="9.2" font-weight="bold" fill="#383838" text-anchor="middle" textLength="62.2" lengthAdjust="spacingAndGlyphs" stroke="#383838" stroke-width="0.14">Social Branding</text>
<text x="951.0" y="437.4" font-size="9.2" font-weight="bold" fill="#383838" text-anchor="middle" textLength="33.6" lengthAdjust="spacingAndGlyphs" stroke="#383838" stroke-width="0.14">Strategy</text>
<text x="576.4" y="12.8" font-size="9.2" font-weight="bold" fill="#383838" text-anchor="middle" textLength="88.8" lengthAdjust="spacingAndGlyphs" stroke="#383838" stroke-width="0.14">Reputation Marketing</text>
<text x="576.4" y="22.9" font-size="9.2" font-weight="bold" fill="#383838" text-anchor="middle" textLength="33.3" lengthAdjust="spacingAndGlyphs" stroke="#383838" stroke-width="0.14">Strategy</text>
<text x="487.4" y="607.4" font-size="9.2" font-weight="bold" fill="#383838" text-anchor="middle" textLength="41.5" lengthAdjust="spacingAndGlyphs" stroke="#383838" stroke-width="0.14">Banner Ad</text>
<text x="487.4" y="616.8" font-size="9.2" font-weight="bold" fill="#383838" text-anchor="middle" textLength="33.4" lengthAdjust="spacingAndGlyphs" stroke="#383838" stroke-width="0.14">Strategy</text>
<text x="667.5" y="607.4" font-size="9.2" font-weight="bold" fill="#383838" text-anchor="middle" textLength="34.9" lengthAdjust="spacingAndGlyphs" stroke="#383838" stroke-width="0.14">Video Ad</text>
<text x="667.5" y="616.8" font-size="9.2" font-weight="bold" fill="#383838" text-anchor="middle" textLength="33.8" lengthAdjust="spacingAndGlyphs" stroke="#383838" stroke-width="0.14">Strategy</text>
<rect x="28.2" y="285.5" width="157.8" height="93.6" rx="3" fill="#fff" stroke="#8d8d8d" stroke-width="1.5"/>
<text x="107.3" y="311.8" font-size="23.2" font-weight="bold" fill="#454545" text-anchor="middle" textLength="108.0" lengthAdjust="spacingAndGlyphs" >Funnels &amp;</text>
<text x="107.1" y="339.0" font-size="23.2" font-weight="bold" fill="#454545" text-anchor="middle" textLength="133.2" lengthAdjust="spacingAndGlyphs" >Automation</text>
<text x="107.2" y="365.8" font-size="23.2" font-weight="bold" fill="#454545" text-anchor="middle" textLength="92.0" lengthAdjust="spacingAndGlyphs" >Strategy</text>
<rect x="940.1" y="298.5" width="158" height="91.3" rx="3" fill="#fff" stroke="#1c4f8c" stroke-width="2"/>
<text x="1018.8" y="323.7" font-size="23.2" font-weight="bold" fill="#1a4a84" text-anchor="middle" textLength="138.0" lengthAdjust="spacingAndGlyphs" >Social Media</text>
<text x="1019.6" y="350.4" font-size="23.2" font-weight="bold" fill="#1a4a84" text-anchor="middle" textLength="113.0" lengthAdjust="spacingAndGlyphs" >Marketing</text>
<text x="1018.9" y="378.2" font-size="23.2" font-weight="bold" fill="#1a4a84" text-anchor="middle" textLength="108.2" lengthAdjust="spacingAndGlyphs" >STRATEGY</text>
<rect x="209.2" y="176.3" width="33.3" height="22.6" rx="4.6" fill="#f7f7f7" fill-opacity="0.92"/>
<rect x="210.9" y="178.0" width="29.9" height="19.2" rx="3.2" fill="#444444"/>
<clipPath id="dc2"><polygon points="220.51,177.00 231.79,177.00 231.79,191.70 227.90,191.70 227.90,194.70 225.21,194.70 225.21,191.70 220.51,191.70"/></clipPath>
<g clip-path="url(#dc2)">
<text x="226.2" y="193.7" font-size="16.7" font-weight="bold" fill="#fff" text-anchor="middle" >1</text>
</g>
<rect x="288.2" y="296.2" width="33.3" height="22.3" rx="4.6" fill="#f7f7f7" fill-opacity="0.92"/>
<rect x="289.9" y="297.9" width="29.9" height="18.9" rx="3.2" fill="#444444"/>
<text x="305.1" y="313.3" font-size="16.7" font-weight="bold" fill="#fff" text-anchor="middle" >2</text>
<rect x="227.5" y="423.3" width="33.3" height="22.6" rx="4.6" fill="#f7f7f7" fill-opacity="0.92"/>
<rect x="229.2" y="425.0" width="29.9" height="19.2" rx="3.2" fill="#444444"/>
<text x="244.4" y="440.7" font-size="16.7" font-weight="bold" fill="#fff" text-anchor="middle" >3</text>
<rect x="897.1" y="204.0" width="32.0" height="20.6" rx="4.3" fill="#fff" stroke="#1d5a9c" stroke-width="2.2"/>
<clipPath id="dc3"><polygon points="907.46,203.40 918.74,203.40 918.74,218.10 914.85,218.10 914.85,221.10 912.16,221.10 912.16,218.10 907.46,218.10"/></clipPath>
<g clip-path="url(#dc3)">
<text x="913.1" y="220.1" font-size="16.7" font-weight="bold" fill="#1d4f8b" text-anchor="middle" >1</text>
</g>
<rect x="815.4" y="309.1" width="32.0" height="20.0" rx="4.3" fill="#fff" stroke="#1d5a9c" stroke-width="2.2"/>
<text x="831.4" y="325.0" font-size="16.7" font-weight="bold" fill="#1d4f8b" text-anchor="middle" >2</text>
<rect x="894.1" y="442.1" width="32.0" height="20.3" rx="4.3" fill="#fff" stroke="#1d5a9c" stroke-width="2.2"/>
<text x="910.1" y="458.2" font-size="16.7" font-weight="bold" fill="#1d4f8b" text-anchor="middle" >3</text>
<rect x="509.4" y="21.9" width="32.0" height="19.5" rx="4.3" fill="#fff" stroke="#d28427" stroke-width="2.2"/>
<text x="525.4" y="38.0" font-size="16.7" font-weight="bold" fill="#454545" text-anchor="middle" >2</text>
<rect x="424.0" y="615.8" width="32.0" height="25.0" rx="4.3" fill="#fff" stroke="#1d5a9c" stroke-width="2.2"/>
<clipPath id="dc4"><polygon points="434.36,615.20 445.64,615.20 445.64,629.90 441.75,629.90 441.75,632.90 439.06,632.90 439.06,629.90 434.36,629.90"/></clipPath>
<g clip-path="url(#dc4)">
<text x="440.0" y="631.9" font-size="16.7" font-weight="bold" fill="#1d4f8b" text-anchor="middle" >1</text>
</g>
<rect x="602.2" y="614.0" width="32.0" height="25.0" rx="4.3" fill="#fff" stroke="#1d5a9c" stroke-width="2.2"/>
<text x="618.2" y="630.1" font-size="16.7" font-weight="bold" fill="#1d4f8b" text-anchor="middle" >2</text>
<defs><linearGradient id="gold" x1="0" y1="0" x2="1" y2="0"><stop offset="0" stop-color="#7c4c0c"/><stop offset="0.28" stop-color="#e2b45c"/><stop offset="0.5" stop-color="#b0761c"/><stop offset="0.74" stop-color="#d8a040"/><stop offset="1" stop-color="#6e420a"/></linearGradient><linearGradient id="blu" x1="0" y1="0" x2="1" y2="0"><stop offset="0" stop-color="#2430c8"/><stop offset="0.45" stop-color="#6f86ff"/><stop offset="1" stop-color="#2a36d6"/></linearGradient></defs>
<g transform="translate(0,0)">
<g><path d="M126 636 L134.5 619 L142 607.8 L149.5 600.3 L156 594.8 L162 590.6 L165 588" fill="none" stroke="#2c1e0a" stroke-width="0.9"/><path d="M127.5 638.0 Q133.6 624.7 120.5 614.5 Q115.1 630.2 127.5 638.0Z" fill="url(#gold)" stroke="#4a3008" stroke-width="0.55"/><path d="M134.3 619.6 Q140.9 610.3 131.4 601.9 Q125.1 612.9 134.3 619.6Z" fill="url(#gold)" stroke="#4a3008" stroke-width="0.55"/><path d="M142.3 608.2 Q148.9 601.1 141.2 593.5 Q134.7 602.1 142.3 608.2Z" fill="url(#gold)" stroke="#4a3008" stroke-width="0.55"/><path d="M149.7 600.6 Q155.2 595.2 149.5 588.9 Q144.0 595.4 149.7 600.6Z" fill="url(#gold)" stroke="#4a3008" stroke-width="0.55"/><path d="M156.4 595.0 Q161.9 590.9 156.6 585.6 Q151.1 590.7 156.4 595.0Z" fill="url(#gold)" stroke="#4a3008" stroke-width="0.55"/><path d="M162.3 590.8 Q166.5 587.6 162.1 583.9 Q157.9 587.8 162.3 590.8Z" fill="url(#gold)" stroke="#4a3008" stroke-width="0.55"/><path d="M129.2 628.5 Q135.5 638.4 144.5 629.4 Q136.6 619.4 129.2 628.5Z" fill="url(#gold)" stroke="#4a3008" stroke-width="0.55"/><path d="M135.0 618.6 Q142.6 625.7 148.2 616.0 Q139.3 609.2 135.0 618.6Z" fill="url(#gold)" stroke="#4a3008" stroke-width="0.55"/><path d="M141.5 608.0 Q147.4 614.2 153.0 606.8 Q146.0 600.7 141.5 608.0Z" fill="url(#gold)" stroke="#4a3008" stroke-width="0.55"/><path d="M149.3 600.5 Q153.8 605.7 158.2 599.7 Q152.8 594.6 149.3 600.5Z" fill="url(#gold)" stroke="#4a3008" stroke-width="0.55"/><path d="M155.8 595.0 Q158.9 600.1 163.1 595.2 Q159.2 590.1 155.8 595.0Z" fill="url(#gold)" stroke="#4a3008" stroke-width="0.55"/><path d="M161.6 590.8 Q163.7 595.2 167.3 591.4 Q164.6 586.9 161.6 590.8Z" fill="url(#gold)" stroke="#4a3008" stroke-width="0.55"/><path d="M164.4 588.0 Q168.1 588.8 169.6 584.8 Q165.4 584.3 164.4 588.0Z" fill="url(#gold)" stroke="#4a3008" stroke-width="0.55"/></g>
<g transform="translate(383,0) scale(-1,1)"><path d="M126 636 L134.5 619 L142 607.8 L149.5 600.3 L156 594.8 L162 590.6 L165 588" fill="none" stroke="#2c1e0a" stroke-width="0.9"/><path d="M127.5 638.0 Q133.6 624.7 120.5 614.5 Q115.1 630.2 127.5 638.0Z" fill="url(#gold)" stroke="#4a3008" stroke-width="0.55"/><path d="M134.3 619.6 Q140.9 610.3 131.4 601.9 Q125.1 612.9 134.3 619.6Z" fill="url(#gold)" stroke="#4a3008" stroke-width="0.55"/><path d="M142.3 608.2 Q148.9 601.1 141.2 593.5 Q134.7 602.1 142.3 608.2Z" fill="url(#gold)" stroke="#4a3008" stroke-width="0.55"/><path d="M149.7 600.6 Q155.2 595.2 149.5 588.9 Q144.0 595.4 149.7 600.6Z" fill="url(#gold)" stroke="#4a3008" stroke-width="0.55"/><path d="M156.4 595.0 Q161.9 590.9 156.6 585.6 Q151.1 590.7 156.4 595.0Z" fill="url(#gold)" stroke="#4a3008" stroke-width="0.55"/><path d="M162.3 590.8 Q166.5 587.6 162.1 583.9 Q157.9 587.8 162.3 590.8Z" fill="url(#gold)" stroke="#4a3008" stroke-width="0.55"/><path d="M129.2 628.5 Q135.5 638.4 144.5 629.4 Q136.6 619.4 129.2 628.5Z" fill="url(#gold)" stroke="#4a3008" stroke-width="0.55"/><path d="M135.0 618.6 Q142.6 625.7 148.2 616.0 Q139.3 609.2 135.0 618.6Z" fill="url(#gold)" stroke="#4a3008" stroke-width="0.55"/><path d="M141.5 608.0 Q147.4 614.2 153.0 606.8 Q146.0 600.7 141.5 608.0Z" fill="url(#gold)" stroke="#4a3008" stroke-width="0.55"/><path d="M149.3 600.5 Q153.8 605.7 158.2 599.7 Q152.8 594.6 149.3 600.5Z" fill="url(#gold)" stroke="#4a3008" stroke-width="0.55"/><path d="M155.8 595.0 Q158.9 600.1 163.1 595.2 Q159.2 590.1 155.8 595.0Z" fill="url(#gold)" stroke="#4a3008" stroke-width="0.55"/><path d="M161.6 590.8 Q163.7 595.2 167.3 591.4 Q164.6 586.9 161.6 590.8Z" fill="url(#gold)" stroke="#4a3008" stroke-width="0.55"/><path d="M164.4 588.0 Q168.1 588.8 169.6 584.8 Q165.4 584.3 164.4 588.0Z" fill="url(#gold)" stroke="#4a3008" stroke-width="0.55"/></g>
<circle cx="206.2" cy="637" r="18.1" fill="#f1f1f1" stroke="#335f41" stroke-width="5.8"/>
<circle cx="206.2" cy="637" r="20.6" fill="none" stroke="#1c3a26" stroke-width="0.9" stroke-dasharray="1.4 0.8"/>
<circle cx="206.2" cy="637" r="15.6" fill="none" stroke="#1c3a26" stroke-width="0.8" stroke-dasharray="1.1 0.9"/>
<circle cx="206.2" cy="637" r="18.4" fill="none" stroke="#6f9a7c" stroke-width="1.2" stroke-dasharray="2.2 1.6" stroke-opacity="0.55"/>
<ellipse cx="198.6" cy="630.4" rx="3.5" ry="3.6" fill="#151515"/>
<path d="M207.6 631 C208 628 209.6 626 210.6 625.4 C211.6 627 212.6 629.4 212.8 631Z" fill="#1b1f2a"/>
<path d="M179.3 592.6 C184.4 592.4 188.4 596.6 187.2 603 C186.6 607.4 186 611 185.4 614.4 C183.6 619.6 180.4 623.6 177 627 L171 635 L152.5 635 C158 629.6 162 626 163.7 622.4 C164.6 618.6 165 615 165.8 611.6 C167.2 605.6 169 600.6 172.1 597.2 C174 594.6 176.4 592.9 179.3 592.6Z" fill="url(#blu)" stroke="#15202a" stroke-width="1"/>
<path d="M180 601.6 C181.2 603.8 177.6 612.4 173.8 617.2 C173 613.4 176.4 604.4 180 601.6Z" fill="#14342a" stroke="#0d1424" stroke-width="0.4"/>
<path d="M177.2 595.6 C173.4 599.6 170.4 606.6 169 613" fill="none" stroke="#7fa2ff" stroke-width="1.2" stroke-opacity="0.8"/>
<path d="M184.6 600 C185 606 183 613 178 620" fill="none" stroke="#5a36cc" stroke-width="1.4" stroke-opacity="0.6"/>
</g>
<g transform="translate(766,5)">
<g><path d="M126 636 L134.5 619 L142 607.8 L149.5 600.3 L156 594.8 L162 590.6 L165 588" fill="none" stroke="#2c1e0a" stroke-width="0.9"/><path d="M127.5 638.0 Q133.6 624.7 120.5 614.5 Q115.1 630.2 127.5 638.0Z" fill="url(#gold)" stroke="#4a3008" stroke-width="0.55"/><path d="M134.3 619.6 Q140.9 610.3 131.4 601.9 Q125.1 612.9 134.3 619.6Z" fill="url(#gold)" stroke="#4a3008" stroke-width="0.55"/><path d="M142.3 608.2 Q148.9 601.1 141.2 593.5 Q134.7 602.1 142.3 608.2Z" fill="url(#gold)" stroke="#4a3008" stroke-width="0.55"/><path d="M149.7 600.6 Q155.2 595.2 149.5 588.9 Q144.0 595.4 149.7 600.6Z" fill="url(#gold)" stroke="#4a3008" stroke-width="0.55"/><path d="M156.4 595.0 Q161.9 590.9 156.6 585.6 Q151.1 590.7 156.4 595.0Z" fill="url(#gold)" stroke="#4a3008" stroke-width="0.55"/><path d="M162.3 590.8 Q166.5 587.6 162.1 583.9 Q157.9 587.8 162.3 590.8Z" fill="url(#gold)" stroke="#4a3008" stroke-width="0.55"/><path d="M129.2 628.5 Q135.5 638.4 144.5 629.4 Q136.6 619.4 129.2 628.5Z" fill="url(#gold)" stroke="#4a3008" stroke-width="0.55"/><path d="M135.0 618.6 Q142.6 625.7 148.2 616.0 Q139.3 609.2 135.0 618.6Z" fill="url(#gold)" stroke="#4a3008" stroke-width="0.55"/><path d="M141.5 608.0 Q147.4 614.2 153.0 606.8 Q146.0 600.7 141.5 608.0Z" fill="url(#gold)" stroke="#4a3008" stroke-width="0.55"/><path d="M149.3 600.5 Q153.8 605.7 158.2 599.7 Q152.8 594.6 149.3 600.5Z" fill="url(#gold)" stroke="#4a3008" stroke-width="0.55"/><path d="M155.8 595.0 Q158.9 600.1 163.1 595.2 Q159.2 590.1 155.8 595.0Z" fill="url(#gold)" stroke="#4a3008" stroke-width="0.55"/><path d="M161.6 590.8 Q163.7 595.2 167.3 591.4 Q164.6 586.9 161.6 590.8Z" fill="url(#gold)" stroke="#4a3008" stroke-width="0.55"/><path d="M164.4 588.0 Q168.1 588.8 169.6 584.8 Q165.4 584.3 164.4 588.0Z" fill="url(#gold)" stroke="#4a3008" stroke-width="0.55"/></g>
<g transform="translate(383,0) scale(-1,1)"><path d="M126 636 L134.5 619 L142 607.8 L149.5 600.3 L156 594.8 L162 590.6 L165 588" fill="none" stroke="#2c1e0a" stroke-width="0.9"/><path d="M127.5 638.0 Q133.6 624.7 120.5 614.5 Q115.1 630.2 127.5 638.0Z" fill="url(#gold)" stroke="#4a3008" stroke-width="0.55"/><path d="M134.3 619.6 Q140.9 610.3 131.4 601.9 Q125.1 612.9 134.3 619.6Z" fill="url(#gold)" stroke="#4a3008" stroke-width="0.55"/><path d="M142.3 608.2 Q148.9 601.1 141.2 593.5 Q134.7 602.1 142.3 608.2Z" fill="url(#gold)" stroke="#4a3008" stroke-width="0.55"/><path d="M149.7 600.6 Q155.2 595.2 149.5 588.9 Q144.0 595.4 149.7 600.6Z" fill="url(#gold)" stroke="#4a3008" stroke-width="0.55"/><path d="M156.4 595.0 Q161.9 590.9 156.6 585.6 Q151.1 590.7 156.4 595.0Z" fill="url(#gold)" stroke="#4a3008" stroke-width="0.55"/><path d="M162.3 590.8 Q166.5 587.6 162.1 583.9 Q157.9 587.8 162.3 590.8Z" fill="url(#gold)" stroke="#4a3008" stroke-width="0.55"/><path d="M129.2 628.5 Q135.5 638.4 144.5 629.4 Q136.6 619.4 129.2 628.5Z" fill="url(#gold)" stroke="#4a3008" stroke-width="0.55"/><path d="M135.0 618.6 Q142.6 625.7 148.2 616.0 Q139.3 609.2 135.0 618.6Z" fill="url(#gold)" stroke="#4a3008" stroke-width="0.55"/><path d="M141.5 608.0 Q147.4 614.2 153.0 606.8 Q146.0 600.7 141.5 608.0Z" fill="url(#gold)" stroke="#4a3008" stroke-width="0.55"/><path d="M149.3 600.5 Q153.8 605.7 158.2 599.7 Q152.8 594.6 149.3 600.5Z" fill="url(#gold)" stroke="#4a3008" stroke-width="0.55"/><path d="M155.8 595.0 Q158.9 600.1 163.1 595.2 Q159.2 590.1 155.8 595.0Z" fill="url(#gold)" stroke="#4a3008" stroke-width="0.55"/><path d="M161.6 590.8 Q163.7 595.2 167.3 591.4 Q164.6 586.9 161.6 590.8Z" fill="url(#gold)" stroke="#4a3008" stroke-width="0.55"/><path d="M164.4 588.0 Q168.1 588.8 169.6 584.8 Q165.4 584.3 164.4 588.0Z" fill="url(#gold)" stroke="#4a3008" stroke-width="0.55"/></g>
<circle cx="206.2" cy="637" r="18.1" fill="#f1f1f1" stroke="#335f41" stroke-width="5.8"/>
<circle cx="206.2" cy="637" r="20.6" fill="none" stroke="#1c3a26" stroke-width="0.9" stroke-dasharray="1.4 0.8"/>
<circle cx="206.2" cy="637" r="15.6" fill="none" stroke="#1c3a26" stroke-width="0.8" stroke-dasharray="1.1 0.9"/>
<circle cx="206.2" cy="637" r="18.4" fill="none" stroke="#6f9a7c" stroke-width="1.2" stroke-dasharray="2.2 1.6" stroke-opacity="0.55"/>
<ellipse cx="198.6" cy="630.4" rx="3.5" ry="3.6" fill="#151515"/>
<path d="M207.6 631 C208 628 209.6 626 210.6 625.4 C211.6 627 212.6 629.4 212.8 631Z" fill="#1b1f2a"/>
<path d="M179.3 592.6 C184.4 592.4 188.4 596.6 187.2 603 C186.6 607.4 186 611 185.4 614.4 C183.6 619.6 180.4 623.6 177 627 L171 635 L152.5 635 C158 629.6 162 626 163.7 622.4 C164.6 618.6 165 615 165.8 611.6 C167.2 605.6 169 600.6 172.1 597.2 C174 594.6 176.4 592.9 179.3 592.6Z" fill="url(#blu)" stroke="#15202a" stroke-width="1"/>
<path d="M180 601.6 C181.2 603.8 177.6 612.4 173.8 617.2 C173 613.4 176.4 604.4 180 601.6Z" fill="#14342a" stroke="#0d1424" stroke-width="0.4"/>
<path d="M177.2 595.6 C173.4 599.6 170.4 606.6 169 613" fill="none" stroke="#7fa2ff" stroke-width="1.2" stroke-opacity="0.8"/>
<path d="M184.6 600 C185 606 183 613 178 620" fill="none" stroke="#5a36cc" stroke-width="1.4" stroke-opacity="0.6"/>
</g>
</svg></body></html>
